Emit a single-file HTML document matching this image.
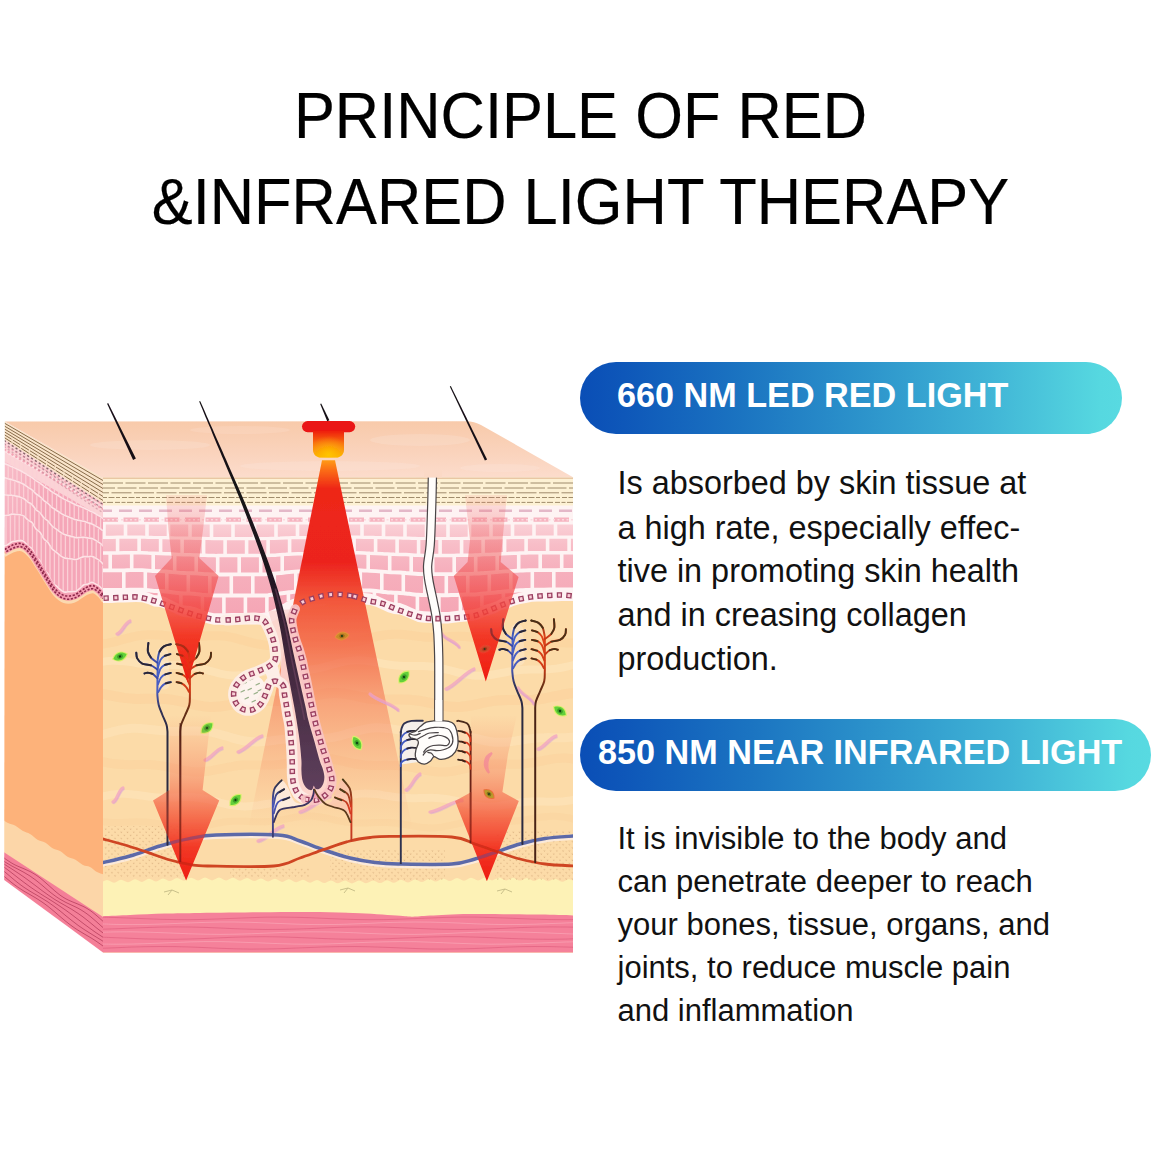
<!DOCTYPE html>
<html><head><meta charset="utf-8">
<style>
html,body{margin:0;padding:0;background:#fff;}
body{width:1160px;height:1160px;position:relative;overflow:hidden;font-family:"Liberation Sans",sans-serif;color:#000;}
.t{position:absolute;white-space:nowrap;line-height:1;}
.title{font-size:64px;left:0;width:1161px;text-align:center;color:#000;transform:scaleX(0.9594);-webkit-text-stroke:0.2px #000;transform-origin:580.5px 0;}
.pill{position:absolute;height:71.5px;border-radius:36px;background:linear-gradient(90deg,#0a4eb6 0%,#0e57b9 8%,#1b74c1 30%,#2c93cb 52%,#40b4d6 75%,#56d8e0 96%,#58dae1 100%);}
.pt{font-weight:bold;color:#fff;font-size:35.4px;transform:scaleX(0.966);transform-origin:0 0;}
.b{font-size:32.4px;color:#111;}
.b2{font-size:31px;}
</style></head><body>
<svg width="1160" height="1160" viewBox="0 0 1160 1160" style="position:absolute;left:0;top:0">
<defs>
<linearGradient id="gTop" x1="0" y1="0" x2="0" y2="1"><stop offset="0" stop-color="#f8caaa"/><stop offset="0.55" stop-color="#fad3bc"/><stop offset="1" stop-color="#fcdccc"/></linearGradient>
<linearGradient id="gBeam" x1="0" y1="460" x2="0" y2="870" gradientUnits="userSpaceOnUse"><stop offset="0" stop-color="#ff9c18"/><stop offset="0.025" stop-color="#fb6c14"/><stop offset="0.07" stop-color="#ee2618"/><stop offset="0.25" stop-color="#ec241e"/><stop offset="0.34" stop-color="#f2563a"/><stop offset="0.463" stop-color="#f25a3c" stop-opacity="0.75"/><stop offset="0.585" stop-color="#f25a3c" stop-opacity="0.43"/><stop offset="0.707" stop-color="#f25a3c" stop-opacity="0.23"/><stop offset="0.83" stop-color="#f25a3c" stop-opacity="0.06"/><stop offset="0.9" stop-color="#f25a3c" stop-opacity="0"/></linearGradient>
<linearGradient id="gA1" x1="0" y1="495" x2="0" y2="683" gradientUnits="userSpaceOnUse"><stop offset="0" stop-color="#f06a6a" stop-opacity="0.12"/><stop offset="0.3" stop-color="#f06060" stop-opacity="0.5"/><stop offset="0.55" stop-color="#f24a48" stop-opacity="0.8"/><stop offset="0.75" stop-color="#f2301f" stop-opacity="0.95"/><stop offset="1" stop-color="#ee1a10"/></linearGradient>
<linearGradient id="gA2" x1="0" y1="715" x2="0" y2="881" gradientUnits="userSpaceOnUse"><stop offset="0" stop-color="#f58060" stop-opacity="0"/><stop offset="0.35" stop-color="#f57a5a" stop-opacity="0.45"/><stop offset="0.6" stop-color="#f4583c" stop-opacity="0.8"/><stop offset="0.8" stop-color="#f2301f" stop-opacity="0.95"/><stop offset="1" stop-color="#ee1a10"/></linearGradient>
<linearGradient id="gLed" x1="0" y1="0" x2="0" y2="1"><stop offset="0" stop-color="#ee1a10"/><stop offset="0.45" stop-color="#f86a10"/><stop offset="1" stop-color="#fdb608"/></linearGradient>
<radialGradient id="gLed2" cx="0.5" cy="0.9" r="0.7"><stop offset="0" stop-color="#ffc400"/><stop offset="1" stop-color="#ffb000" stop-opacity="0"/></radialGradient>
<linearGradient id="gHair" x1="0" y1="0" x2="1" y2="0"><stop offset="0" stop-color="#2a1a24"/><stop offset="1" stop-color="#6a3a58"/></linearGradient>
<linearGradient id="gVb" x1="0" y1="0" x2="0" y2="1"><stop offset="0" stop-color="#3f63d8"/><stop offset="1" stop-color="#2a2a48"/></linearGradient>
<linearGradient id="gVr" x1="0" y1="0" x2="0" y2="1"><stop offset="0" stop-color="#e0280c"/><stop offset="1" stop-color="#4a1a12"/></linearGradient>
<linearGradient id="gCell" x1="0" y1="524" x2="0" y2="615" gradientUnits="userSpaceOnUse"><stop offset="0" stop-color="#fad0d6"/><stop offset="0.22" stop-color="#f8bec8"/><stop offset="0.5" stop-color="#f6b0bd"/><stop offset="1" stop-color="#f5a6b5"/></linearGradient>
<clipPath id="cFront"><rect x="103" y="477.5" width="470" height="474.9"/></clipPath>
<clipPath id="cLeft"><path d="M4.8 421.4L103 477.5L103 952.4L4.2 880Z"/></clipPath>
<filter id="soft" x="-5%" y="-5%" width="110%" height="110%"><feGaussianBlur stdDeviation="0.6"/></filter>
</defs>
<g filter="url(#soft)">
<path d="M4.8 421.4L466 421.2Q474.5 421.2 481 425L573.5 477.5L103 478Z" fill="url(#gTop)"/>
<ellipse cx="150" cy="445" rx="60" ry="5" fill="#fde6da" opacity="0.25"/>
<ellipse cx="330" cy="466" rx="90" ry="5" fill="#fde6da" opacity="0.3"/>
<ellipse cx="420" cy="440" rx="50" ry="6" fill="#fde6da" opacity="0.25"/>
<ellipse cx="240" cy="430" rx="50" ry="4" fill="#fde6da" opacity="0.2"/>
<ellipse cx="500" cy="468" rx="40" ry="4" fill="#fde6da" opacity="0.3"/>
<g clip-path="url(#cLeft)">
<linearGradient id="gLF" x1="0" y1="0" x2="0.45" y2="1"><stop offset="0" stop-color="#fbd3da"/><stop offset="0.12" stop-color="#f8bcc8"/><stop offset="0.3" stop-color="#f5a6b8"/></linearGradient><rect x="0" y="400" width="110" height="560" fill="url(#gLF)"/>
<path d="M0 416.7L10 422.4L20 428.1L30 433.8L40 439.5L50 445.2L60 450.9L70 456.6L80 462.4L90 468.1L100 473.8L110 479.5L110 521.5L100 515.8L90 510.1L80 504.4L70 498.6L60 492.9L50 487.2L40 481.5L30 475.8L20 470.1L10 464.4L0 458.7Z" fill="#fbd3d6"/>
<path d="M4 450.9C4.7 451.3 6.7 452.5 8 453.2C9.3 454 10.7 454.8 12 455.5C13.3 456.3 14.7 457 16 457.8C17.3 458.6 18.7 459.3 20 460.1C21.3 460.8 22.7 461.6 24 462.4C25.3 463.1 26.7 463.9 28 464.7C29.3 465.4 30.7 466.2 32 466.9C33.3 467.7 34.7 468.5 36 469.2C37.3 470 38.7 470.7 40 471.5C41.3 472.3 42.7 473 44 473.8C45.3 474.6 46.7 475.3 48 476.1C49.3 476.8 50.7 477.6 52 478.4C53.3 479.1 54.7 479.9 56 480.6C57.3 481.4 58.7 482.2 60 482.9C61.3 483.7 62.7 484.5 64 485.2C65.3 486 66.7 486.7 68 487.5C69.3 488.3 70.7 489 72 489.8C73.3 490.6 74.7 491.3 76 492.1C77.3 492.8 78.7 493.6 80 494.4C81.3 495.1 82.7 495.9 84 496.6C85.3 497.4 86.7 498.2 88 498.9C89.3 499.7 90.7 500.5 92 501.2C93.3 502 94.7 502.7 96 503.5C97.3 504.3 98.7 505 100 505.8C101.3 506.5 103.3 507.7 104 508.1" fill="none" stroke="#fde3e6" stroke-width="1.6"/>
<path d="M4 463.3C4.7 463.6 6.7 464.5 8 465.1C9.3 465.7 10.7 466.1 12 466.7C13.3 467.3 14.7 468 16 468.6C17.3 469.3 18.7 469.9 20 470.5C21.3 471.2 22.7 471.9 24 472.7C25.3 473.4 26.7 474.4 28 475.2C29.3 476.1 30.7 476.7 32 477.6C33.3 478.5 34.7 479.7 36 480.7C37.3 481.6 38.7 482.2 40 483.1C41.3 484.1 42.7 485.3 44 486.3C45.3 487.2 46.7 487.9 48 488.8C49.3 489.7 50.7 490.9 52 491.8C53.3 492.7 54.7 493.5 56 494.3C57.3 495.1 58.7 496 60 496.8C61.3 497.6 62.7 498.4 64 499.1C65.3 499.8 66.7 500.4 68 501.1C69.3 501.7 70.7 502.4 72 503C73.3 503.7 74.7 504.4 76 505C77.3 505.5 78.7 506 80 506.5C81.3 507.1 82.7 507.5 84 508.1C85.3 508.7 86.7 509.4 88 510C89.3 510.6 90.7 511.1 92 511.8C93.3 512.4 94.7 513.2 96 514C97.3 514.7 98.7 515.5 100 516.3C101.3 517.2 103.3 518.5 104 519" fill="none" stroke="#fde3e6" stroke-width="1.6"/>
<path d="M4 477.6C4.7 477.8 6.7 478.4 8 478.8C9.3 479.1 10.7 479.3 12 479.7C13.3 480 14.7 480.6 16 481.1C17.3 481.6 18.7 482 20 482.6C21.3 483.1 22.7 483.7 24 484.5C25.3 485.4 26.7 486.5 28 487.4C29.3 488.3 30.7 488.8 32 489.9C33.3 490.9 34.7 492.7 36 493.8C37.3 495 38.7 495.4 40 496.6C41.3 497.7 42.7 499.5 44 500.7C45.3 501.8 46.7 502.4 48 503.5C49.3 504.6 50.7 506.3 52 507.4C53.3 508.5 54.7 509.1 56 510C57.3 510.9 58.7 511.9 60 512.7C61.3 513.6 62.7 514.5 64 515.1C65.3 515.8 66.7 516.2 68 516.7C69.3 517.2 70.7 517.8 72 518.3C73.3 518.8 74.7 519.4 76 519.8C77.3 520.2 78.7 520.4 80 520.6C81.3 520.9 82.7 521 84 521.3C85.3 521.7 86.7 522.3 88 522.7C89.3 523.1 90.7 523.4 92 523.9C93.3 524.5 94.7 525.3 96 526.1C97.3 526.8 98.7 527.6 100 528.5C101.3 529.4 103.3 531.1 104 531.6" fill="none" stroke="#fde3e6" stroke-width="1.6"/>
<path d="M4 494.7C4.7 494.8 6.7 495.1 8 495.2C9.3 495.3 10.7 495 12 495.2C13.3 495.3 14.7 495.8 16 496.1C17.3 496.4 18.7 496.6 20 497C21.3 497.5 22.7 498 24 498.8C25.3 499.6 26.7 501.1 28 502.1C29.3 503.1 30.7 503.3 32 504.6C33.3 505.9 34.7 508.3 36 509.7C37.3 511 38.7 511.3 40 512.7C41.3 514 42.7 516.6 44 518C45.3 519.4 46.7 519.8 48 521.1C49.3 522.4 50.7 524.7 52 526C53.3 527.3 54.7 528 56 528.9C57.3 529.9 58.7 531 60 531.9C61.3 532.8 62.7 533.7 64 534.3C65.3 534.9 66.7 535.1 68 535.5C69.3 535.9 70.7 536.3 72 536.6C73.3 537 74.7 537.5 76 537.7C77.3 537.8 78.7 537.5 80 537.5C81.3 537.4 82.7 537.1 84 537.2C85.3 537.3 86.7 537.8 88 538C89.3 538.2 90.7 538.1 92 538.5C93.3 539 94.7 539.8 96 540.6C97.3 541.4 98.7 542.1 100 543.1C101.3 544.1 103.3 546.1 104 546.7" fill="none" stroke="#fde3e6" stroke-width="1.6"/>
<path d="M4 515.6C4.7 515.5 6.7 515.5 8 515.3C9.3 515.1 10.7 514.3 12 514.1C13.3 514 14.7 514.4 16 514.5C17.3 514.6 18.7 514.4 20 514.7C21.3 515 22.7 515.3 24 516.2C25.3 517.1 26.7 518.9 28 520C29.3 521.1 30.7 521.1 32 522.6C33.3 524.1 34.7 527.4 36 529C37.3 530.6 38.7 530.7 40 532.3C41.3 534 42.7 537.4 44 539.1C45.3 540.8 46.7 541 48 542.6C49.3 544.3 50.7 547.3 52 548.8C53.3 550.4 54.7 551 56 552C57.3 553.1 58.7 554.3 60 555.3C61.3 556.2 62.7 557.3 64 557.8C65.3 558.4 66.7 558.3 68 558.5C69.3 558.6 70.7 558.8 72 559C73.3 559.2 74.7 559.6 76 559.5C77.3 559.3 78.7 558.6 80 558.1C81.3 557.6 82.7 556.8 84 556.6C85.3 556.4 86.7 556.7 88 556.7C89.3 556.6 90.7 556.1 92 556.4C93.3 556.6 94.7 557.6 96 558.3C97.3 559.1 98.7 559.8 100 560.9C101.3 562 103.3 564.4 104 565.1" fill="none" stroke="#fde3e6" stroke-width="1.6"/>
<path d="M4 546C4.7 545.8 6.7 545.2 8 544.5C9.3 543.8 10.7 542.3 12 541.7C13.3 541.2 14.7 541.4 16 541.1C17.3 540.9 18.7 540.4 20 540.4C21.3 540.5 22.7 540.6 24 541.6C25.3 542.5 26.7 544.8 28 546C29.3 547.2 30.7 547 32 548.8C33.3 550.7 34.7 555.1 36 557.2C37.3 559.2 38.7 558.8 40 561C41.3 563.1 42.7 567.7 44 569.9C45.3 572 46.7 571.9 48 574C49.3 576 50.7 580 52 582C53.3 583.9 54.7 584.4 56 585.6C57.3 586.8 58.7 588.2 60 589.3C61.3 590.4 62.7 591.6 64 592C65.3 592.4 66.7 591.9 68 591.8C69.3 591.8 70.7 591.7 72 591.6C73.3 591.5 74.7 591.7 76 591.2C77.3 590.6 78.7 589.1 80 588.1C81.3 587 82.7 585.5 84 584.8C85.3 584.1 86.7 584.3 88 583.9C89.3 583.4 90.7 582.3 92 582.3C93.3 582.4 94.7 583.4 96 584.2C97.3 584.9 98.7 585.5 100 586.8C101.3 588.1 103.3 591.1 104 592" fill="none" stroke="#fde3e6" stroke-width="1.6"/>
<path d="M6 452.9V463.5M10.4 455.4V465.2M14.8 457.9V467.3M19.2 460.4V469.3M23.6 462.9V471.6M28 465.5V474.4M32.4 468V477.1M36.8 470.5V480.4M41.2 473V483.2M45.6 475.5V486.6M50 478V489.5M54.4 480.5V492.6M58.8 483V495.2M63.2 485.6V497.9M67.6 488.1V500.1M72 490.6V502.2M76.4 493.1V504.3M80.8 495.6V506M85.2 498.1V507.8M89.6 500.6V509.9M94 503.2V512M98.4 505.7V514.6M102.8 508.2V517.5" stroke="#fbd0d6" stroke-width="1.3" fill="none"/>
<path d="M8.2 466V478M12.6 467.8V479M17 469.9V480.7M21.4 472V482.3M25.8 474.6V485.1M30.2 477.3V487.8M34.6 480.4V491.7M39 483.3V495M43.4 486.6V499.3M47.8 489.5V502.5M52.2 492.8V506.8M56.6 495.4V509.6M61 498.2V512.6M65.4 500.6V514.9M69.8 502.7V516.6M74.2 504.9V518.4M78.6 506.8V519.6M83 508.5V520.3M87.4 510.5V521.7M91.8 512.5V523.1M96.2 514.9V525.4M100.6 517.5V528.2" stroke="#fbd0d6" stroke-width="1.3" fill="none"/>
<path d="M6 479.1V494.4M10.4 480.1V494.3M14.8 481.5V495M19.2 483.1V496M23.6 485.1V497.7M28 488.2V501.3M32.4 491V504.3M36.8 495.3V509.7M41.2 498.5V513.3M45.6 502.9V518.9M50 506.1V522.6M54.4 510.1V527.5M58.8 512.7V530.1M63.2 515.5V533.2M67.6 517.4V534.6M72 519.1V535.8M76.4 520.7V536.9M80.8 521.5V536.6M85.2 522.5V536.6M89.6 524V537.4M94 525.6V538.4M98.4 528.4V541.5M102.8 531.8V545.4" stroke="#fbd0d6" stroke-width="1.3" fill="none"/>
<path d="M8.2 496V514.4M12.6 496.1V513.3M17 497.2V513.7M21.4 498.2V514.1M25.8 501.1V517.1M30.2 504V520.3M34.6 508.7V526M39 512.6V530.5M43.4 518V537.3M47.8 521.7V541.6M52.2 527.1V548.3M56.6 530.1V551.6M61 533.4V555.3M65.4 535.6V557.3M69.8 536.8V557.9M74.2 538.1V558.6M78.6 538.4V557.9M83 538V556.1M87.4 538.7V555.9M91.8 539.3V555.6M96.2 541.6V557.7M100.6 544.5V560.8" stroke="#fbd0d6" stroke-width="1.3" fill="none"/>
<path d="M6 516.6V544.9M10.4 515.3V541.9M14.8 515.2V540.5M19.2 515.4V539.7M23.6 516.7V540.4M28 520.8V545.2M32.4 524V548.7M36.8 530.8V557.6M41.2 534.9V562.5M45.6 542V571.7M50 546.3V576.8M54.4 552.3V584.4M58.8 555V587.2M63.2 558.4V591.1M67.6 559.2V591.1M72 559.8V590.8M76.4 560.2V590.2M80.8 558.5V586.5M85.2 557.3V583.6M89.6 557.3V582.4M94 557.6V581.7M98.4 561V585.4M102.8 565.5V590.9" stroke="#fbd0d6" stroke-width="1.3" fill="none"/>
<path d="M4 444.9L104 505.1" stroke="#f3a9b8" stroke-width="1.6" stroke-dasharray="2.2 2.2" fill="none"/>
<path d="M4 449.4L104 509.6" stroke="#f3a3b3" stroke-width="2.2" stroke-dasharray="2.2 2.2" fill="none"/>
<path d="M0 418.7L110 481.5L110 507.5L0 436.7Z" fill="#f9e4ca"/>
<path d="M4 422.9L104 481.1" stroke="#755634" stroke-width="0.95" fill="none" opacity="0.9" />
<path d="M4 425.8L104 485.1" stroke="#755634" stroke-width="0.95" fill="none" opacity="0.9" />
<path d="M4 428.7L104 489.1" stroke="#755634" stroke-width="0.95" fill="none" opacity="0.9" />
<path d="M4 431.6L104 493.1" stroke="#755634" stroke-width="0.95" fill="none" opacity="0.9" />
<path d="M4 434.5L104 497.1" stroke="#755634" stroke-width="0.95" fill="none" opacity="0.9" stroke-dasharray="9 1.2"/>
<path d="M4 437.4L104 501.1" stroke="#755634" stroke-width="0.95" fill="none" opacity="0.9" stroke-dasharray="9 1.2"/>
<path d="M4 440.4L104 505.1" stroke="#6a4a50" stroke-width="1.3" fill="none" stroke-dasharray="2.2 2.4" opacity="0.8"/>
<path d="M4 443.5L104 509.3" stroke="#9a6a7a" stroke-width="1.3" fill="none" stroke-dasharray="2.2 2.4" opacity="0.65"/>
<path d="M4 446.6L104 513.5" stroke="#c88a9a" stroke-width="1.3" fill="none" stroke-dasharray="2.2 2.4" opacity="0.6"/>
<path d="M4.7 551C6.2 550.2 10.6 547.4 13.4 546.4C16.2 545.4 18.9 544.4 21.7 545.3C24.5 546.2 27.2 548.8 30 552C32.8 555.2 35.5 560.2 38.3 564.5C41.1 568.8 43.9 573.7 46.6 578C49.4 582.3 51.9 587.1 54.8 590.3C57.7 593.5 60.7 596 64 597C67.3 598 70.8 597.8 74.5 596.5C78.2 595.2 82.8 590.8 85.9 589.3C89 587.8 90.8 586.9 93 587.2C95.2 587.6 97.6 589.8 99.3 591.4C101 593 102.7 596.1 103.4 597L110 600L110 960L0 960L0 551Z" fill="#fdb27a"/>
<path d="M4.7 551C6.2 550.2 10.6 547.4 13.4 546.4C16.2 545.4 18.9 544.4 21.7 545.3C24.5 546.2 27.2 548.8 30 552C32.8 555.2 35.5 560.2 38.3 564.5C41.1 568.8 43.9 573.7 46.6 578C49.4 582.3 51.9 587.1 54.8 590.3C57.7 593.5 60.7 596 64 597C67.3 598 70.8 597.8 74.5 596.5C78.2 595.2 82.8 590.8 85.9 589.3C89 587.8 90.8 586.9 93 587.2C95.2 587.6 97.6 589.8 99.3 591.4C101 593 102.7 596.1 103.4 597" fill="none" stroke="#fbd9b0" stroke-width="3" transform="translate(0,4.5)"/>
<path d="M4.7 551C6.2 550.2 10.6 547.4 13.4 546.4C16.2 545.4 18.9 544.4 21.7 545.3C24.5 546.2 27.2 548.8 30 552C32.8 555.2 35.5 560.2 38.3 564.5C41.1 568.8 43.9 573.7 46.6 578C49.4 582.3 51.9 587.1 54.8 590.3C57.7 593.5 60.7 596 64 597C67.3 598 70.8 597.8 74.5 596.5C78.2 595.2 82.8 590.8 85.9 589.3C89 587.8 90.8 586.9 93 587.2C95.2 587.6 97.6 589.8 99.3 591.4C101 593 102.7 596.1 103.4 597" fill="none" stroke="#f49ab0" stroke-width="6"/>
<path d="M4.7 551C6.2 550.2 10.6 547.4 13.4 546.4C16.2 545.4 18.9 544.4 21.7 545.3C24.5 546.2 27.2 548.8 30 552C32.8 555.2 35.5 560.2 38.3 564.5C41.1 568.8 43.9 573.7 46.6 578C49.4 582.3 51.9 587.1 54.8 590.3C57.7 593.5 60.7 596 64 597C67.3 598 70.8 597.8 74.5 596.5C78.2 595.2 82.8 590.8 85.9 589.3C89 587.8 90.8 586.9 93 587.2C95.2 587.6 97.6 589.8 99.3 591.4C101 593 102.7 596.1 103.4 597" fill="none" stroke="#8c2848" stroke-width="1.6" stroke-dasharray="2.2 1.6" transform="translate(0,-1.6)"/>
<path d="M4.7 551C6.2 550.2 10.6 547.4 13.4 546.4C16.2 545.4 18.9 544.4 21.7 545.3C24.5 546.2 27.2 548.8 30 552C32.8 555.2 35.5 560.2 38.3 564.5C41.1 568.8 43.9 573.7 46.6 578C49.4 582.3 51.9 587.1 54.8 590.3C57.7 593.5 60.7 596 64 597C67.3 598 70.8 597.8 74.5 596.5C78.2 595.2 82.8 590.8 85.9 589.3C89 587.8 90.8 586.9 93 587.2C95.2 587.6 97.6 589.8 99.3 591.4C101 593 102.7 596.1 103.4 597" fill="none" stroke="#8c2848" stroke-width="1.6" stroke-dasharray="2.2 1.6" stroke-dashoffset="1.9" transform="translate(0,1.6)"/>
<path d="M0 817.5C1.3 818.4 5.5 821.7 8 823C10.5 824.3 12.5 824.2 15 825.5C17.5 826.8 20.5 829.6 23 831C25.5 832.4 27.5 832.5 30 834C32.5 835.5 35.5 838.6 38 840C40.5 841.4 42.5 841.1 45 842.5C47.5 843.9 50.5 847.1 53 848.5C55.5 849.9 57.5 849.6 60 851C62.5 852.4 65.5 855.6 68 857C70.5 858.4 72.5 858.2 75 859.5C77.5 860.8 80.5 863.8 83 865C85.5 866.2 87.7 865.8 90 867C92.3 868.2 94.7 870.8 97 872C99.3 873.2 101.8 873.7 104 874.5C106.2 875.3 109 876.6 110 877L110 960L0 960Z" fill="#fcd6a8"/>
<path d="M0 849.6L110 921.6L110 960L0 960Z" fill="#f47f98"/>
<path d="M0 854.5C1 855.3 4 857.9 6 859.4C8 860.8 10 862.1 12 863.3C14 864.5 16 865.4 18 866.3C20 867.2 22 868 24 868.8C26 869.7 28 870.5 30 871.5C32 872.6 34 873.7 36 875C38 876.3 40 877.9 42 879.5C44 881.2 46 883 48 884.8C50 886.6 52 888.5 54 890.2C56 891.9 58 893.6 60 895.1C62 896.5 64 897.8 66 898.9C68 900 70 900.8 72 901.7C74 902.6 76 903.3 78 904.1C80 905 82 905.8 84 906.8C86 907.9 88 909 90 910.4C92 911.8 94 913.4 96 915.1C98 916.7 100 918.6 102 920.4C104 922.2 107 924.9 108 925.8" fill="none" stroke="#b8405e" stroke-width="1" opacity="0.8"/>
<path d="M0 858.5C1 859.2 4 861.3 6 862.6C8 863.8 10 865 12 866.1C14 867.2 16 868.2 18 869.2C20 870.3 22 871.3 24 872.4C26 873.5 28 874.7 30 876C32 877.4 34 878.8 36 880.3C38 881.9 40 883.6 42 885.2C44 886.9 46 888.7 48 890.4C50 892 52 893.7 54 895.1C56 896.6 58 898 60 899.2C62 900.4 64 901.5 66 902.5C68 903.5 70 904.4 72 905.3C74 906.3 76 907.1 78 908.2C80 909.3 82 910.4 84 911.8C86 913.1 88 914.6 90 916.2C92 917.8 94 919.6 96 921.3C98 923.1 100 925 102 926.7C104 928.4 107 930.8 108 931.6" fill="none" stroke="#b8405e" stroke-width="1" opacity="0.8"/>
<path d="M0 861.5C1 862.1 4 864 6 865.3C8 866.5 10 867.8 12 869.1C14 870.4 16 871.6 18 873C20 874.3 22 875.7 24 877.1C26 878.5 28 880 30 881.5C32 882.9 34 884.5 36 886C38 887.5 40 889.1 42 890.6C44 892 46 893.5 48 894.9C50 896.3 52 897.7 54 899C56 900.2 58 901.4 60 902.6C62 903.8 64 904.9 66 906C68 907.2 70 908.3 72 909.5C74 910.7 76 912 78 913.4C80 914.7 82 916.2 84 917.7C86 919.3 88 920.9 90 922.5C92 924.2 94 925.9 96 927.5C98 929.1 100 930.7 102 932.2C104 933.7 107 935.6 108 936.3" fill="none" stroke="#b8405e" stroke-width="1" opacity="0.8"/>
<path d="M0 864.3C1 865 4 867.1 6 868.5C8 870 10 871.6 12 873.1C14 874.6 16 876.2 18 877.8C20 879.3 22 880.9 24 882.4C26 883.9 28 885.4 30 886.8C32 888.2 34 889.6 36 890.9C38 892.2 40 893.5 42 894.8C44 896.1 46 897.3 48 898.5C50 899.8 52 901 54 902.3C56 903.6 58 904.9 60 906.3C62 907.6 64 909 66 910.4C68 911.8 70 913.3 72 914.8C74 916.3 76 917.8 78 919.4C80 920.9 82 922.4 84 924C86 925.5 88 927 90 928.4C92 929.9 94 931.3 96 932.7C98 934 100 935.3 102 936.6C104 937.9 107 939.7 108 940.3" fill="none" stroke="#b8405e" stroke-width="1" opacity="0.8"/>
<path d="M0 868C1 868.8 4 871.2 6 872.9C8 874.6 10 876.3 12 878C14 879.7 16 881.4 18 882.9C20 884.5 22 885.9 24 887.3C26 888.7 28 890 30 891.2C32 892.5 34 893.6 36 894.7C38 895.9 40 897 42 898.3C44 899.5 46 900.7 48 902C50 903.4 52 904.8 54 906.3C56 907.8 58 909.4 60 910.9C62 912.5 64 914.2 66 915.9C68 917.5 70 919.1 72 920.7C74 922.3 76 923.8 78 925.3C80 926.7 82 928.1 84 929.4C86 930.7 88 932 90 933.2C92 934.5 94 935.7 96 936.9C98 938.1 100 939.3 102 940.6C104 941.9 107 944 108 944.6" fill="none" stroke="#b8405e" stroke-width="1" opacity="0.8"/>
<path d="M0 872.7C1 873.6 4 876.2 6 877.9C8 879.6 10 881.3 12 882.9C14 884.4 16 885.9 18 887.3C20 888.7 22 889.9 24 891.2C26 892.4 28 893.5 30 894.6C32 895.8 34 896.9 36 898.1C38 899.4 40 900.6 42 902C44 903.4 46 904.8 48 906.4C50 908 52 909.7 54 911.3C56 913 58 914.8 60 916.5C62 918.2 64 919.9 66 921.5C68 923.1 70 924.7 72 926.1C74 927.6 76 928.9 78 930.2C80 931.4 82 932.6 84 933.8C86 935 88 936.1 90 937.3C92 938.5 94 939.7 96 941.1C98 942.4 100 943.8 102 945.3C104 946.8 107 949.2 108 950" fill="none" stroke="#b8405e" stroke-width="1" opacity="0.8"/>
</g>
<g clip-path="url(#cFront)">
<rect x="100" y="470" width="480" height="490" fill="#fcdba8"/>
<path d="M100 644.4C102 644.1 108 643.3 112 642.4C116 641.5 120 640.2 124 639.2C128 638.1 132 636.9 136 636.2C140 635.4 144 634.9 148 634.7C152 634.6 156 634.8 160 635.1C164 635.4 168 636 172 636.3C176 636.6 180 637 184 637C188 637.1 192 636.9 196 636.7C200 636.5 204 636 208 635.8C212 635.7 216 635.5 220 635.8C224 636 228 636.6 232 637.4C236 638.2 240 639.5 244 640.5C248 641.6 252 642.9 256 643.7C260 644.5 264 645.2 268 645.4C272 645.7 276 645.5 280 645.3C284 645.1 288 644.4 292 644C296 643.6 300 643.1 304 643C308 642.8 312 642.9 316 643C320 643.1 324 643.6 328 643.8C332 643.9 336 644.2 340 644C344 643.8 348 643.4 352 642.7C356 642 360 640.8 364 639.8C368 638.8 372 637.4 376 636.5C380 635.6 384 634.8 388 634.5C392 634.1 396 634.1 400 634.3C404 634.5 408 635.2 412 635.6C416 636 420 636.7 424 636.9C428 637.2 432 637.3 436 637.3C440 637.2 444 636.8 448 636.7C452 636.5 456 636.2 460 636.3C464 636.4 468 636.7 472 637.3C476 637.9 480 639 484 639.9C488 640.9 492 642.3 496 643.2C500 644.2 504 645.1 508 645.6C512 646 516 646.1 520 646C524 645.9 528 645.2 532 644.8C536 644.3 540 643.6 544 643.2C548 642.9 552 642.6 556 642.5C560 642.5 564 642.7 568 642.9C572 643 578 643.3 580 643.3" fill="none" stroke="#fbd19a" stroke-width="9" opacity="0.55" stroke-linecap="round"/>
<path d="M100 662.2C102 662 108 660.8 112 660.7C116 660.5 120 660.8 124 661.2C128 661.6 132 662.5 136 663C140 663.6 144 664.3 148 664.7C152 665 156 665.2 160 665.2C164 665.3 168 665.1 172 665.1C176 665.1 180 665.1 184 665.4C188 665.8 192 666.4 196 667.2C200 668 204 669.3 208 670.3C212 671.4 216 672.7 220 673.6C224 674.4 228 675.1 232 675.4C236 675.7 240 675.5 244 675.1C248 674.8 252 673.9 256 673.3C260 672.7 264 671.9 268 671.4C272 670.9 276 670.6 280 670.4C284 670.3 288 670.4 292 670.4C296 670.4 300 670.5 304 670.3C308 670 312 669.5 316 668.8C320 668.1 324 667 328 665.9C332 664.9 336 663.6 340 662.7C344 661.8 348 660.9 352 660.6C356 660.2 360 660.3 364 660.6C368 660.9 372 661.7 376 662.3C380 663 384 663.9 388 664.5C392 665.1 396 665.5 400 665.8C404 666.1 408 666 412 666.1C416 666.1 420 665.9 424 666.1C428 666.3 432 666.6 436 667.2C440 667.8 444 668.8 448 669.8C452 670.8 456 672.1 460 673C464 674 468 674.9 472 675.4C476 675.8 480 675.9 484 675.7C488 675.4 492 674.7 496 674C500 673.4 504 672.4 508 671.7C512 671 516 670.4 520 670C524 669.6 528 669.6 532 669.5C536 669.4 540 669.6 544 669.4C548 669.3 552 669.1 556 668.6C560 668.1 564 667.3 568 666.4C572 665.5 578 663.8 580 663.3" fill="none" stroke="#fde6be" stroke-width="8" opacity="0.6" stroke-linecap="round"/>
<path d="M100 693.8C102 694.1 108 695.1 112 695.8C116 696.5 120 697.3 124 697.9C128 698.4 132 698.7 136 698.9C140 699.1 144 698.9 148 698.8C152 698.8 156 698.6 160 698.7C164 698.8 168 699.1 172 699.7C176 700.3 180 701.2 184 702.1C188 703 192 704.2 196 705C200 705.7 204 706.5 208 706.8C212 707 216 706.9 220 706.5C224 706.2 228 705.3 232 704.6C236 703.9 240 702.9 244 702.3C248 701.7 252 701.1 256 700.9C260 700.6 264 700.7 268 700.7C272 700.7 276 701 280 700.9C284 700.8 288 700.7 292 700.2C296 699.8 300 699 304 698.1C308 697.3 312 696.2 316 695.4C320 694.6 324 693.7 328 693.3C332 693 336 693 340 693.3C344 693.5 348 694.3 352 695.1C356 695.8 360 696.8 364 697.5C368 698.2 372 698.9 376 699.3C380 699.6 384 699.7 388 699.7C392 699.8 396 699.5 400 699.5C404 699.5 408 699.5 412 699.9C416 700.2 420 700.9 424 701.6C428 702.4 432 703.5 436 704.3C440 705.1 444 706.1 448 706.5C452 706.9 456 707.1 460 706.9C464 706.7 468 706 472 705.3C476 704.6 480 703.5 484 702.7C488 701.9 492 701.1 496 700.6C500 700.2 504 700 508 699.9C512 699.8 516 700 520 700.1C524 700.1 528 700.2 532 699.9C536 699.7 540 699.2 544 698.5C548 697.9 552 696.8 556 696C560 695.2 564 694.2 568 693.7C572 693.2 578 693.2 580 693" fill="none" stroke="#fbd09a" stroke-width="10" opacity="0.5" stroke-linecap="round"/>
<path d="M100 735.5C102 734.9 108 732.9 112 731.9C116 730.8 120 729.7 124 729.1C128 728.5 132 728.2 136 728.3C140 728.3 144 728.8 148 729.2C152 729.6 156 730.3 160 730.6C164 731 168 731.3 172 731.4C176 731.5 180 731.3 184 731.2C188 731.1 192 730.8 196 730.9C200 731 204 731.2 208 731.8C212 732.3 216 733.3 220 734.3C224 735.3 228 736.8 232 737.8C236 738.9 240 740.1 244 740.8C248 741.5 252 741.9 256 742C260 742.1 264 741.6 268 741.2C272 740.8 276 740.1 280 739.6C284 739.1 288 738.7 292 738.5C296 738.3 300 738.3 304 738.4C308 738.4 312 738.7 316 738.7C320 738.6 324 738.5 328 738.1C332 737.6 336 736.8 340 735.9C344 734.9 348 733.5 352 732.4C356 731.4 360 730.1 364 729.3C368 728.5 372 728 376 727.8C380 727.7 384 728 388 728.4C392 728.8 396 729.6 400 730.1C404 730.6 408 731.3 412 731.6C416 731.9 420 732 424 732C428 732 432 731.8 436 731.8C440 731.8 444 731.8 448 732.2C452 732.5 456 733.2 460 734C464 734.9 468 736.2 472 737.3C476 738.3 480 739.7 484 740.5C488 741.4 492 742.1 496 742.3C500 742.5 504 742.3 508 742C512 741.6 516 740.8 520 740.2C524 739.6 528 738.9 532 738.5C536 738 540 737.8 544 737.7C548 737.5 552 737.7 556 737.7C560 737.7 564 737.8 568 737.5C572 737.3 578 736.3 580 736" fill="none" stroke="#fde4ba" stroke-width="9" opacity="0.55" stroke-linecap="round"/>
<path d="M100 761.3C102 761.7 108 763 112 763.5C116 764.1 120 764.4 124 764.6C128 764.8 132 764.6 136 764.6C140 764.6 144 764.3 148 764.5C152 764.7 156 765 160 765.6C164 766.1 168 767.1 172 767.9C176 768.8 180 769.9 184 770.5C188 771.2 192 771.8 196 772C200 772.1 204 771.8 208 771.3C212 770.8 216 769.8 220 769C224 768.2 228 767.2 232 766.6C236 765.9 240 765.4 244 765.1C248 764.9 252 765 256 765C260 765 264 765.2 268 765.1C272 765 276 764.9 280 764.4C284 764 288 763.1 292 762.4C296 761.6 300 760.5 304 759.8C308 759.1 312 758.3 316 758.1C320 757.9 324 758.1 328 758.5C332 758.9 336 759.8 340 760.6C344 761.4 348 762.5 352 763.3C356 764 360 764.7 364 765.1C368 765.4 372 765.4 376 765.5C380 765.5 384 765.2 388 765.3C392 765.3 396 765.3 400 765.7C404 766 408 766.7 412 767.4C416 768.1 420 769.2 424 769.9C428 770.6 432 771.4 436 771.7C440 772 444 772 448 771.7C452 771.4 456 770.5 460 769.7C464 768.9 468 767.8 472 766.9C476 766.1 480 765.3 484 764.8C488 764.3 492 764.2 496 764.1C500 764 504 764.3 508 764.3C512 764.3 516 764.4 520 764.2C524 763.9 528 763.4 532 762.8C536 762.2 540 761.2 544 760.5C548 759.8 552 758.9 556 758.5C560 758.1 564 758 568 758.2C572 758.5 578 759.7 580 760" fill="none" stroke="#fbd19c" stroke-width="9" opacity="0.5" stroke-linecap="round"/>
<path d="M100 797.1C102 796.7 108 795.1 112 794.5C116 794 120 793.7 124 793.8C128 793.8 132 794.4 136 794.8C140 795.3 144 796.1 148 796.5C152 797 156 797.4 160 797.6C164 797.7 168 797.6 172 797.5C176 797.4 180 797 184 797C188 797 192 797 196 797.4C200 797.8 204 798.6 208 799.4C212 800.3 216 801.6 220 802.6C224 803.6 228 804.7 232 805.3C236 806 240 806.4 244 806.4C248 806.5 252 806 256 805.6C260 805.1 264 804.3 268 803.7C272 803.2 276 802.6 280 802.4C284 802.1 288 802.1 292 802.1C296 802.2 300 802.5 304 802.6C308 802.6 312 802.7 316 802.4C320 802.1 324 801.5 328 800.7C332 799.9 336 798.7 340 797.7C344 796.8 348 795.6 352 794.8C356 794.1 360 793.6 364 793.5C368 793.3 372 793.7 376 794.1C380 794.5 384 795.4 388 795.9C392 796.5 396 797.3 400 797.6C404 798 408 798.2 412 798.2C416 798.3 420 798 424 797.9C428 797.8 432 797.7 436 797.9C440 798.1 444 798.5 448 799.2C452 799.9 456 801 460 801.9C464 802.9 468 804.1 472 804.9C476 805.7 480 806.4 484 806.6C488 806.8 492 806.6 496 806.3C500 805.9 504 805 508 804.4C512 803.8 516 802.9 520 802.4C524 802 528 801.6 532 801.5C536 801.4 540 801.6 544 801.6C548 801.7 552 801.9 556 801.8C560 801.7 564 801.4 568 800.8C572 800.2 578 798.7 580 798.3" fill="none" stroke="#fde6be" stroke-width="8" opacity="0.55" stroke-linecap="round"/>
<path d="M100 821.4C102 821.6 108 822.3 112 822.5C116 822.6 120 822.4 124 822.3C128 822.1 132 821.8 136 821.8C140 821.8 144 821.9 148 822.3C152 822.7 156 823.5 160 824.2C164 824.9 168 825.9 172 826.5C176 827.2 180 827.8 184 827.9C188 828.1 192 827.8 196 827.4C200 827 204 826 208 825.2C212 824.5 216 823.4 220 822.8C224 822.1 228 821.6 232 821.3C236 821.1 240 821.2 244 821.3C248 821.4 252 821.8 256 821.8C260 821.9 264 821.9 268 821.6C272 821.4 276 820.7 280 820.1C284 819.5 288 818.5 292 817.8C296 817.2 300 816.4 304 816.2C308 816 312 816 316 816.4C320 816.8 324 817.6 328 818.4C332 819.2 336 820.3 340 821C344 821.8 348 822.5 352 822.8C356 823.1 360 823.1 364 823.1C368 823.1 372 822.7 376 822.6C380 822.5 384 822.3 388 822.5C392 822.7 396 823.1 400 823.7C404 824.2 408 825.2 412 825.8C416 826.5 420 827.3 424 827.6C428 827.9 432 828 436 827.7C440 827.4 444 826.7 448 825.9C452 825.2 456 824 460 823.2C464 822.4 468 821.6 472 821.1C476 820.7 480 820.5 484 820.5C488 820.5 492 820.9 496 821C500 821.1 504 821.4 508 821.3C512 821.2 516 821 520 820.5C524 820 528 819.2 532 818.6C536 817.9 540 817.1 544 816.7C548 816.3 552 816.1 556 816.3C560 816.4 564 817.1 568 817.8C572 818.5 578 820 580 820.5" fill="none" stroke="#fbd29c" stroke-width="7" opacity="0.4" stroke-linecap="round"/>
<path d="M100 883.1C101.2 882.6 104.7 880.2 107 880.1C109.3 880.1 111.7 882.8 114 882.8C116.3 882.7 118.7 879.8 121 879.8C123.3 879.7 125.7 882.4 128 882.3C130.3 882.3 132.7 879.4 135 879.3C137.3 879.2 139.7 882 142 881.9C144.3 881.8 146.7 878.9 149 878.8C151.3 878.8 153.7 881.5 156 881.4C158.3 881.3 160.7 878.5 163 878.4C165.3 878.3 167.7 881.1 170 881C172.3 880.9 174.7 878.1 177 878C179.3 878 181.7 880.7 184 880.7C186.3 880.6 188.7 877.8 191 877.8C193.3 877.7 195.7 880.5 198 880.5C200.3 880.4 202.7 877.6 205 877.6C207.3 877.6 209.7 880.4 212 880.4C214.3 880.4 216.7 877.6 219 877.6C221.3 877.6 223.7 880.4 226 880.5C228.3 880.5 230.7 877.7 233 877.8C235.3 877.8 237.7 880.6 240 880.7C242.3 880.7 244.7 878 247 878C249.3 878.1 251.7 880.9 254 881C256.3 881.1 258.7 878.3 261 878.4C263.3 878.5 265.7 881.3 268 881.4C270.3 881.5 272.7 878.8 275 878.8C277.3 878.9 279.7 881.8 282 881.9C284.3 882 286.7 879.2 289 879.3C291.3 879.4 293.7 882.3 296 882.3C298.3 882.4 300.7 879.7 303 879.8C305.3 879.8 307.7 882.7 310 882.8C312.3 882.8 314.7 880.1 317 880.1C319.3 880.2 321.7 883 324 883.1C326.3 883.1 328.7 880.4 331 880.4C333.3 880.5 335.7 883.3 338 883.3C340.3 883.3 342.7 880.6 345 880.6C347.3 880.6 349.7 883.4 352 883.4C354.3 883.4 356.7 880.6 359 880.6C361.3 880.6 363.7 883.4 366 883.3C368.3 883.3 370.7 880.5 373 880.5C375.3 880.4 377.7 883.2 380 883.1C382.3 883.1 384.7 880.3 387 880.2C389.3 880.1 391.7 882.9 394 882.8C396.3 882.8 398.7 879.9 401 879.8C403.3 879.8 405.7 882.5 408 882.4C410.3 882.4 412.7 879.5 415 879.4C417.3 879.3 419.7 882 422 882C424.3 881.9 426.7 879 429 878.9C431.3 878.9 433.7 881.6 436 881.5C438.3 881.4 440.7 878.6 443 878.5C445.3 878.4 447.7 881.1 450 881.1C452.3 881 454.7 878.2 457 878.1C459.3 878 461.7 880.8 464 880.7C466.3 880.7 468.7 877.8 471 877.8C473.3 877.8 475.7 880.5 478 880.5C480.3 880.5 482.7 877.7 485 877.6C487.3 877.6 489.7 880.4 492 880.4C494.3 880.4 496.7 877.6 499 877.6C501.3 877.6 503.7 880.4 506 880.4C508.3 880.5 510.7 877.7 513 877.7C515.3 877.8 517.7 880.6 520 880.6C522.3 880.7 524.7 877.9 527 878C529.3 878 531.7 880.9 534 880.9C536.3 881 538.7 878.3 541 878.3C543.3 878.4 545.7 881.3 548 881.3C550.3 881.4 552.7 878.7 555 878.8C557.3 878.8 559.7 881.7 562 881.8C564.3 881.9 566.7 879.1 569 879.2C571.3 879.3 574.8 881.7 576 882.2L580 960L100 960Z" fill="#fdf2b6"/>
<pattern id="dots" width="4.4" height="4.4" patternUnits="userSpaceOnUse" patternTransform="rotate(45)"><circle cx="1.1" cy="1.1" r="0.75" fill="#c89a6a"/></pattern>
<rect x="104" y="826" width="82" height="52" fill="url(#dots)" opacity="0.55"/>
<rect x="330" y="850" width="115" height="30" fill="url(#dots)" opacity="0.55"/>
<rect x="495" y="830" width="80" height="50" fill="url(#dots)" opacity="0.55"/>
<rect x="230" y="868" width="80" height="10" fill="url(#dots)" opacity="0.55"/>
<path d="M100 883.1C101.2 882.6 104.7 880.2 107 880.1C109.3 880.1 111.7 882.8 114 882.8C116.3 882.7 118.7 879.8 121 879.8C123.3 879.7 125.7 882.4 128 882.3C130.3 882.3 132.7 879.4 135 879.3C137.3 879.2 139.7 882 142 881.9C144.3 881.8 146.7 878.9 149 878.8C151.3 878.8 153.7 881.5 156 881.4C158.3 881.3 160.7 878.5 163 878.4C165.3 878.3 167.7 881.1 170 881C172.3 880.9 174.7 878.1 177 878C179.3 878 181.7 880.7 184 880.7C186.3 880.6 188.7 877.8 191 877.8C193.3 877.7 195.7 880.5 198 880.5C200.3 880.4 202.7 877.6 205 877.6C207.3 877.6 209.7 880.4 212 880.4C214.3 880.4 216.7 877.6 219 877.6C221.3 877.6 223.7 880.4 226 880.5C228.3 880.5 230.7 877.7 233 877.8C235.3 877.8 237.7 880.6 240 880.7C242.3 880.7 244.7 878 247 878C249.3 878.1 251.7 880.9 254 881C256.3 881.1 258.7 878.3 261 878.4C263.3 878.5 265.7 881.3 268 881.4C270.3 881.5 272.7 878.8 275 878.8C277.3 878.9 279.7 881.8 282 881.9C284.3 882 286.7 879.2 289 879.3C291.3 879.4 293.7 882.3 296 882.3C298.3 882.4 300.7 879.7 303 879.8C305.3 879.8 307.7 882.7 310 882.8C312.3 882.8 314.7 880.1 317 880.1C319.3 880.2 321.7 883 324 883.1C326.3 883.1 328.7 880.4 331 880.4C333.3 880.5 335.7 883.3 338 883.3C340.3 883.3 342.7 880.6 345 880.6C347.3 880.6 349.7 883.4 352 883.4C354.3 883.4 356.7 880.6 359 880.6C361.3 880.6 363.7 883.4 366 883.3C368.3 883.3 370.7 880.5 373 880.5C375.3 880.4 377.7 883.2 380 883.1C382.3 883.1 384.7 880.3 387 880.2C389.3 880.1 391.7 882.9 394 882.8C396.3 882.8 398.7 879.9 401 879.8C403.3 879.8 405.7 882.5 408 882.4C410.3 882.4 412.7 879.5 415 879.4C417.3 879.3 419.7 882 422 882C424.3 881.9 426.7 879 429 878.9C431.3 878.9 433.7 881.6 436 881.5C438.3 881.4 440.7 878.6 443 878.5C445.3 878.4 447.7 881.1 450 881.1C452.3 881 454.7 878.2 457 878.1C459.3 878 461.7 880.8 464 880.7C466.3 880.7 468.7 877.8 471 877.8C473.3 877.8 475.7 880.5 478 880.5C480.3 880.5 482.7 877.7 485 877.6C487.3 877.6 489.7 880.4 492 880.4C494.3 880.4 496.7 877.6 499 877.6C501.3 877.6 503.7 880.4 506 880.4C508.3 880.5 510.7 877.7 513 877.7C515.3 877.8 517.7 880.6 520 880.6C522.3 880.7 524.7 877.9 527 878C529.3 878 531.7 880.9 534 880.9C536.3 881 538.7 878.3 541 878.3C543.3 878.4 545.7 881.3 548 881.3C550.3 881.4 552.7 878.7 555 878.8C557.3 878.8 559.7 881.7 562 881.8C564.3 881.9 566.7 879.1 569 879.2C571.3 879.3 574.8 881.7 576 882.2L580 960L100 960Z" fill="#fdf2b6" opacity="0.0"/>
<path d="M100 916.3C105 916.1 119.2 915.5 130 915C140.8 914.5 153.3 913.9 165 913.6C176.7 913.3 184.2 913.2 200 913C215.8 912.8 241.7 912.5 260 912.3C278.3 912.1 293.3 911.9 310 912C326.7 912.1 345 912.6 360 913.2C375 913.8 391.2 915.2 400 915.8C408.8 916.4 408 916.7 413 916.7C418 916.7 420.5 916.1 430 915.6C439.5 915.1 451.7 914.2 470 914C488.3 913.8 521.7 914.3 540 914.6C558.3 914.9 573.3 915.4 580 915.6L580 960L100 960Z" fill="#f5819a"/>
<path d="M100 917.2C102.5 917.2 110 917.4 115 917.5C120 917.7 125 917.9 130 918.1C135 918.3 140 918.5 145 918.7C150 918.9 155 919.1 160 919.3C165 919.4 170 919.6 175 919.6C180 919.7 185 919.7 190 919.7C195 919.6 200 919.5 205 919.4C210 919.3 215 919.1 220 918.9C225 918.7 230 918.5 235 918.3C240 918.1 245 917.8 250 917.7C255 917.5 260 917.3 265 917.2C270 917.1 275 917.1 280 917.1C285 917.1 290 917.2 295 917.3C300 917.4 305 917.6 310 917.7C315 917.9 320 918.1 325 918.4C330 918.6 335 918.8 340 919C345 919.2 350 919.4 355 919.5C360 919.6 365 919.7 370 919.7C375 919.7 380 919.7 385 919.6C390 919.5 395 919.4 400 919.2C405 919 410 918.8 415 918.6C420 918.4 425 918.2 430 918C435 917.8 440 917.6 445 917.4C450 917.3 455 917.2 460 917.1C465 917.1 470 917.1 475 917.1C480 917.2 485 917.3 490 917.5C495 917.6 500 917.8 505 918C510 918.2 515 918.4 520 918.6C525 918.8 530 919.1 535 919.2C540 919.4 545 919.5 550 919.6C555 919.7 560 919.7 565 919.7C570 919.7 577.5 919.5 580 919.5" fill="none" stroke="#e0607f" stroke-width="1" opacity="0.7"/>
<path d="M100 923.9C102.5 923.9 110 924.2 115 924.4C120 924.5 125 924.6 130 924.6C135 924.6 140 924.6 145 924.5C150 924.4 155 924.3 160 924.1C165 924 170 923.8 175 923.5C180 923.3 185 923.1 190 922.9C195 922.7 200 922.5 205 922.4C210 922.2 215 922.1 220 922C225 922 230 922 235 922C240 922.1 245 922.2 250 922.3C255 922.5 260 922.7 265 922.9C270 923.1 275 923.3 280 923.5C285 923.7 290 923.9 295 924.1C300 924.3 305 924.4 310 924.5C315 924.6 320 924.6 325 924.6C330 924.6 335 924.5 340 924.4C345 924.3 350 924.1 355 923.9C360 923.7 365 923.5 370 923.3C375 923.1 380 922.8 385 922.6C390 922.5 395 922.3 400 922.2C405 922.1 410 922 415 922C420 922 425 922 430 922.1C435 922.2 440 922.4 445 922.5C450 922.7 455 922.9 460 923.1C465 923.4 470 923.6 475 923.8C480 924 485 924.2 490 924.3C495 924.4 500 924.5 505 924.6C510 924.6 515 924.6 520 924.5C525 924.5 530 924.3 535 924.2C540 924 545 923.8 550 923.6C555 923.4 560 923.2 565 923C570 922.8 577.5 922.5 580 922.4" fill="none" stroke="#f9a6b6" stroke-width="1" opacity="0.7"/>
<path d="M100 929.3C102.5 929.2 110 929 115 928.8C120 928.6 125 928.4 130 928.2C135 928 140 927.7 145 927.6C150 927.4 155 927.2 160 927.1C165 927 170 926.9 175 926.9C180 926.9 185 926.9 190 927C195 927.1 200 927.3 205 927.4C210 927.6 215 927.8 220 928C225 928.2 230 928.5 235 928.7C240 928.9 245 929.1 250 929.2C255 929.3 260 929.4 265 929.5C270 929.5 275 929.5 280 929.4C285 929.4 290 929.3 295 929.1C300 929 305 928.8 310 928.6C315 928.4 320 928.1 325 927.9C330 927.7 335 927.5 340 927.3C345 927.2 350 927 355 927C360 926.9 365 926.9 370 926.9C375 926.9 380 927 385 927.2C390 927.3 395 927.5 400 927.7C405 927.9 410 928.1 415 928.3C420 928.5 425 928.7 430 928.9C435 929.1 440 929.3 445 929.3C450 929.4 455 929.5 460 929.5C465 929.5 470 929.4 475 929.3C480 929.2 485 929.1 490 928.9C495 928.7 500 928.5 505 928.3C510 928.1 515 927.8 520 927.6C525 927.5 530 927.3 535 927.1C540 927 545 926.9 550 926.9C555 926.9 560 926.9 565 927C570 927.1 577.5 927.3 580 927.4" fill="none" stroke="#e0607f" stroke-width="1" opacity="0.7"/>
<path d="M100 932.3C102.5 932.2 110 932 115 931.9C120 931.8 125 931.8 130 931.8C135 931.8 140 931.9 145 932.1C150 932.2 155 932.4 160 932.6C165 932.7 170 933 175 933.2C180 933.4 185 933.6 190 933.8C195 934 200 934.1 205 934.2C210 934.3 215 934.4 220 934.4C225 934.4 230 934.3 235 934.2C240 934.1 245 934 250 933.8C255 933.6 260 933.4 265 933.2C270 933 275 932.8 280 932.6C285 932.4 290 932.2 295 932.1C300 931.9 305 931.8 310 931.8C315 931.8 320 931.8 325 931.9C330 932 335 932.1 340 932.2C345 932.4 350 932.6 355 932.8C360 933 365 933.3 370 933.5C375 933.7 380 933.9 385 934C390 934.2 395 934.3 400 934.3C405 934.4 410 934.4 415 934.4C420 934.3 425 934.2 430 934.1C435 933.9 440 933.7 445 933.6C450 933.4 455 933.1 460 932.9C465 932.7 470 932.5 475 932.3C480 932.2 485 932 490 931.9C495 931.8 500 931.8 505 931.8C510 931.8 515 931.9 520 932C525 932.1 530 932.3 535 932.5C540 932.7 545 932.9 550 933.1C555 933.3 560 933.5 565 933.7C570 933.9 577.5 934.1 580 934.2" fill="none" stroke="#f9a6b6" stroke-width="1" opacity="0.7"/>
<path d="M100 937.1C102.5 937.2 110 937.5 115 937.7C120 937.9 125 938.1 130 938.3C135 938.5 140 938.8 145 938.9C150 939.1 155 939.2 160 939.2C165 939.3 170 939.3 175 939.3C180 939.2 185 939.1 190 939C195 938.9 200 938.7 205 938.5C210 938.3 215 938 220 937.8C225 937.6 230 937.4 235 937.2C240 937.1 245 936.9 250 936.8C255 936.7 260 936.7 265 936.7C270 936.7 275 936.8 280 936.9C285 937 290 937.2 295 937.4C300 937.5 305 937.8 310 938C315 938.2 320 938.4 325 938.6C330 938.8 335 939 340 939.1C345 939.2 350 939.3 355 939.3C360 939.3 365 939.3 370 939.2C375 939.1 380 939 385 938.8C390 938.6 395 938.4 400 938.2C405 938 410 937.8 415 937.6C420 937.4 425 937.2 430 937C435 936.9 440 936.8 445 936.7C450 936.7 455 936.7 460 936.7C465 936.8 470 936.9 475 937.1C480 937.2 485 937.4 490 937.6C495 937.8 500 938.1 505 938.3C510 938.5 515 938.7 520 938.8C525 939 530 939.1 535 939.2C540 939.3 545 939.3 550 939.3C555 939.3 560 939.2 565 939.1C570 938.9 577.5 938.6 580 938.6" fill="none" stroke="#e0607f" stroke-width="1" opacity="0.7"/>
<path d="M100 944C102.5 944 110 944.2 115 944.2C120 944.2 125 944.2 130 944.1C135 944 140 943.9 145 943.7C150 943.5 155 943.3 160 943.1C165 942.9 170 942.7 175 942.5C180 942.3 185 942.1 190 941.9C195 941.8 200 941.7 205 941.6C210 941.6 215 941.6 220 941.6C225 941.7 230 941.8 235 942C240 942.1 245 942.3 250 942.5C255 942.7 260 942.9 265 943.1C270 943.3 275 943.6 280 943.7C285 943.9 290 944 295 944.1C300 944.2 305 944.2 310 944.2C315 944.2 320 944.1 325 944C330 943.8 335 943.7 340 943.5C345 943.3 350 943.1 355 942.8C360 942.6 365 942.4 370 942.2C375 942.1 380 941.9 385 941.8C390 941.7 395 941.6 400 941.6C405 941.6 410 941.6 415 941.7C420 941.8 425 942 430 942.2C435 942.3 440 942.6 445 942.8C450 943 455 943.2 460 943.4C465 943.6 470 943.8 475 943.9C480 944 485 944.1 490 944.2C495 944.2 500 944.2 505 944.1C510 944.1 515 943.9 520 943.8C525 943.6 530 943.4 535 943.2C540 943 545 942.8 550 942.6C555 942.4 560 942.2 565 942C570 941.9 577.5 941.7 580 941.7" fill="none" stroke="#f9a6b6" stroke-width="1" opacity="0.7"/>
<path d="M100 948.4C102.5 948.3 110 948 115 947.8C120 947.6 125 947.3 130 947.1C135 947 140 946.8 145 946.7C150 946.6 155 946.5 160 946.5C165 946.5 170 946.5 175 946.6C180 946.7 185 946.9 190 947C195 947.2 200 947.4 205 947.6C210 947.9 215 948.1 220 948.3C225 948.5 230 948.7 235 948.8C240 948.9 245 949 250 949.1C255 949.1 260 949.1 265 949C270 949 275 948.8 280 948.7C285 948.5 290 948.3 295 948.1C300 947.9 305 947.7 310 947.5C315 947.3 320 947.1 325 946.9C330 946.8 335 946.6 340 946.6C345 946.5 350 946.5 355 946.5C360 946.6 365 946.7 370 946.8C375 946.9 380 947.1 385 947.3C390 947.5 395 947.7 400 947.9C405 948.1 410 948.4 415 948.5C420 948.7 425 948.9 430 949C435 949.1 440 949.1 445 949.1C450 949.1 455 949 460 948.9C465 948.8 470 948.6 475 948.5C480 948.3 485 948.1 490 947.9C495 947.6 500 947.4 505 947.2C510 947 515 946.9 520 946.7C525 946.6 530 946.5 535 946.5C540 946.5 545 946.5 550 946.6C555 946.7 560 946.8 565 947C570 947.1 577.5 947.5 580 947.6" fill="none" stroke="#e0607f" stroke-width="1" opacity="0.7"/>
<path d="M164 892l8 -2l7 3M172 890l-4 5" stroke="#c9c08a" stroke-width="1" fill="none"/>
<path d="M340 890l8 -2l7 3M348 888l-4 5" stroke="#c9c08a" stroke-width="1" fill="none"/>
<path d="M497 891l8 -2l7 3M505 889l-4 5" stroke="#c9c08a" stroke-width="1" fill="none"/>
<path d="M100 470L580 470L580 601L580 601L574 601L568 601L562 601.1L556 601.2L550 601.4L544 601.5L538 601.6L532 601.7L526 603.1L520 604L514 605.7L508 608.2L502 609.4L496 612.9L490 615L484 616.7L478 619.7L472 621L466 621.4L460 622L454 622.8L448 623.4L442 623.6L436 623.4L430 623L424 622.8L418 622L412 619.6L406 616.7L400 614.5L394 613.9L388 612.2L382 609.5L376 606.8L370 605.1L364 604.4L358 602.3L352 601L346 601.3L340 602.1L334 603.2L328 604.5L322 605.9L316 607.2L310 608.2L304 608.9L298 609.1L292 610.8L286 613.8L280 617.4L274 620.8L268 623.5L262 624.5L256 624.5L250 624.5L244 624.6L238 624.6L232 624.6L226 624.7L220 624.7L214 624.7L208 623.6L202 621.4L196 619.1L190 617.4L184 616.9L178 615L172 612L166 609L160 607.1L154 606.4L148 604.1L142 602.2L136 602L130 602.2L124 602.4L118 602.6L112 602.9L106 603L100 603Z" fill="#fef3f3"/>
<path d="M100 524.5 L580 524.5 L580 589.5L574 589.5L568 589.5L562 589.6L556 589.7L550 589.9L544 590L538 590.1L532 590.2L526 591.6L520 592.5L514 594.2L508 596.7L502 597.9L496 601.4L490 603.5L484 605.2L478 608.2L472 609.5L466 609.9L460 610.5L454 611.3L448 611.9L442 612.1L436 611.9L430 611.5L424 611.3L418 610.5L412 608.1L406 605.2L400 603L394 602.4L388 600.7L382 598L376 595.3L370 593.6L364 592.9L358 590.8L352 589.5L346 589.8L340 590.6L334 591.7L328 593L322 594.4L316 595.7L310 596.7L304 597.4L298 597.6L292 599.3L286 602.3L280 605.9L274 609.3L268 612L262 613L256 613L250 613L244 613.1L238 613.1L232 613.1L226 613.2L220 613.2L214 613.2L208 612.1L202 609.9L196 607.6L190 605.9L184 605.4L178 603.5L172 600.5L166 597.5L160 595.6L154 594.9L148 592.6L142 590.7L136 590.5L130 590.7L124 590.9L118 591.1L112 591.4L106 591.5L100 591.5 Z" fill="url(#gCell)"/>
<path d="M100 537.3C101 537.3 104 537.3 106 537.3C108 537.3 110 537.3 112 537.3C114 537.2 116 537.2 118 537.2C120 537.2 122 537.2 124 537.2C126 537.2 128 537.2 130 537.2C132 537.2 134 537.2 136 537.2C138 537.2 140 537.2 142 537.2C144 537.2 146 537.3 148 537.3C150 537.4 152 537.4 154 537.5C156 537.5 158 537.5 160 537.5C162 537.5 164 537.6 166 537.6C168 537.7 170 537.8 172 537.8C174 537.9 176 538 178 538C180 538.1 182 538.1 184 538.1C186 538.2 188 538.1 190 538.2C192 538.2 194 538.2 196 538.3C198 538.3 200 538.4 202 538.4C204 538.5 206 538.5 208 538.5C210 538.6 212 538.6 214 538.6C216 538.6 218 538.6 220 538.6C222 538.6 224 538.6 226 538.6C228 538.6 230 538.6 232 538.6C234 538.6 236 538.6 238 538.6C240 538.6 242 538.6 244 538.6C246 538.6 248 538.6 250 538.6C252 538.6 254 538.6 256 538.6C258 538.6 260 538.6 262 538.6C264 538.6 266 538.6 268 538.5C270 538.5 272 538.4 274 538.4C276 538.3 278 538.2 280 538.2C282 538.1 284 538 286 537.9C288 537.9 290 537.8 292 537.7C294 537.7 296 537.7 298 537.6C300 537.6 302 537.6 304 537.6C306 537.6 308 537.6 310 537.6C312 537.6 314 537.5 316 537.5C318 537.5 320 537.5 322 537.4C324 537.4 326 537.4 328 537.4C330 537.3 332 537.3 334 537.3C336 537.3 338 537.2 340 537.2C342 537.2 344 537.2 346 537.2C348 537.1 350 537.1 352 537.1C354 537.1 356 537.2 358 537.2C360 537.3 362 537.3 364 537.3C366 537.4 368 537.4 370 537.4C372 537.4 374 537.5 376 537.5C378 537.5 380 537.6 382 537.7C384 537.7 386 537.8 388 537.8C390 537.9 392 537.9 394 537.9C396 538 398 538 400 538C402 538 404 538.1 406 538.1C408 538.2 410 538.2 412 538.3C414 538.4 416 538.4 418 538.5C420 538.5 422 538.5 424 538.5C426 538.5 428 538.5 430 538.5C432 538.5 434 538.5 436 538.5C438 538.5 440 538.5 442 538.5C444 538.5 446 538.5 448 538.5C450 538.5 452 538.5 454 538.5C456 538.5 458 538.5 460 538.5C462 538.4 464 538.4 466 538.4C468 538.4 470 538.4 472 538.4C474 538.4 476 538.4 478 538.3C480 538.3 482 538.2 484 538.1C486 538.1 488 538.1 490 538C492 538 494 537.9 496 537.9C498 537.8 500 537.7 502 537.7C504 537.6 506 537.6 508 537.6C510 537.5 512 537.5 514 537.4C516 537.4 518 537.4 520 537.3C522 537.3 524 537.3 526 537.3C528 537.2 530 537.2 532 537.2C534 537.2 536 537.2 538 537.2C540 537.2 542 537.2 544 537.2C546 537.2 548 537.2 550 537.2C552 537.2 554 537.2 556 537.2C558 537.1 560 537.1 562 537.1C564 537.1 566 537.1 568 537.1C570 537.1 572 537.1 574 537.1C576 537.1 579 537.1 580 537.1" fill="none" stroke="#fef3f3" stroke-width="3.2"/>
<path d="M100 552.9C101 552.9 104 552.9 106 552.9C108 552.9 110 552.9 112 552.9C114 552.9 116 552.9 118 552.9C120 552.9 122 552.9 124 552.8C126 552.8 128 552.8 130 552.8C132 552.8 134 552.8 136 552.8C138 552.8 140 552.8 142 552.8C144 552.9 146 553 148 553.1C150 553.1 152 553.3 154 553.3C156 553.4 158 553.4 160 553.4C162 553.5 164 553.6 166 553.7C168 553.8 170 553.9 172 554C174 554.2 176 554.3 178 554.4C180 554.5 182 554.6 184 554.7C186 554.7 188 554.7 190 554.7C192 554.8 194 554.9 196 554.9C198 555 200 555.1 202 555.2C204 555.3 206 555.4 208 555.5C210 555.6 212 555.6 214 555.6C216 555.7 218 555.6 220 555.6C222 555.6 224 555.6 226 555.6C228 555.6 230 555.6 232 555.6C234 555.6 236 555.6 238 555.6C240 555.6 242 555.6 244 555.6C246 555.6 248 555.6 250 555.6C252 555.6 254 555.6 256 555.6C258 555.6 260 555.6 262 555.6C264 555.6 266 555.6 268 555.5C270 555.4 272 555.3 274 555.2C276 555 278 554.9 280 554.7C282 554.6 284 554.4 286 554.3C288 554.1 290 554 292 553.9C294 553.8 296 553.7 298 553.7C300 553.7 302 553.7 304 553.7C306 553.6 308 553.6 310 553.6C312 553.5 314 553.5 316 553.4C318 553.4 320 553.3 322 553.3C324 553.2 326 553.2 328 553.1C330 553.1 332 553 334 553C336 552.9 338 552.9 340 552.8C342 552.8 344 552.7 346 552.7C348 552.7 350 552.7 352 552.7C354 552.7 356 552.8 358 552.8C360 552.9 362 553 364 553.1C366 553.2 368 553.1 370 553.2C372 553.2 374 553.3 376 553.4C378 553.5 380 553.6 382 553.7C384 553.9 386 554 388 554.1C390 554.2 392 554.2 394 554.3C396 554.3 398 554.3 400 554.4C402 554.4 404 554.5 406 554.6C408 554.7 410 554.9 412 555C414 555.1 416 555.2 418 555.3C420 555.4 422 555.4 424 555.4C426 555.4 428 555.4 430 555.4C432 555.4 434 555.5 436 555.5C438 555.5 440 555.5 442 555.5C444 555.5 446 555.5 448 555.5C450 555.5 452 555.4 454 555.4C456 555.4 458 555.3 460 555.3C462 555.3 464 555.2 466 555.2C468 555.2 470 555.2 472 555.2C474 555.1 476 555.1 478 555C480 554.9 482 554.7 484 554.6C486 554.5 488 554.5 490 554.4C492 554.3 494 554.3 496 554.2C498 554 500 553.8 502 553.7C504 553.6 506 553.6 508 553.6C510 553.5 512 553.4 514 553.3C516 553.2 518 553.1 520 553C522 553 524 553 526 552.9C528 552.9 530 552.8 532 552.8C534 552.7 536 552.8 538 552.7C540 552.7 542 552.7 544 552.7C546 552.7 548 552.7 550 552.7C552 552.7 554 552.7 556 552.7C558 552.7 560 552.7 562 552.7C564 552.7 566 552.7 568 552.7C570 552.7 572 552.7 574 552.7C576 552.7 579 552.7 580 552.7" fill="none" stroke="#fef3f3" stroke-width="3.5"/>
<path d="M100 570.4C101 570.4 104 570.4 106 570.4C108 570.4 110 570.4 112 570.4C114 570.3 116 570.3 118 570.3C120 570.3 122 570.3 124 570.3C126 570.3 128 570.2 130 570.2C132 570.2 134 570.2 136 570.2C138 570.2 140 570.2 142 570.2C144 570.3 146 570.5 148 570.6C150 570.7 152 570.9 154 571C156 571.1 158 571.1 160 571.2C162 571.2 164 571.4 166 571.5C168 571.7 170 571.9 172 572.1C174 572.3 176 572.5 178 572.6C180 572.8 182 572.9 184 573C186 573.1 188 573 190 573.1C192 573.2 194 573.3 196 573.4C198 573.5 200 573.7 202 573.8C204 574 206 574.1 208 574.2C210 574.3 212 574.4 214 574.5C216 574.5 218 574.5 220 574.5C222 574.5 224 574.5 226 574.5C228 574.4 230 574.4 232 574.4C234 574.4 236 574.4 238 574.4C240 574.4 242 574.4 244 574.4C246 574.4 248 574.4 250 574.4C252 574.4 254 574.4 256 574.4C258 574.4 260 574.5 262 574.4C264 574.4 266 574.3 268 574.2C270 574.1 272 573.9 274 573.7C276 573.5 278 573.3 280 573.1C282 572.9 284 572.6 286 572.4C288 572.2 290 572 292 571.8C294 571.7 296 571.6 298 571.5C300 571.5 302 571.5 304 571.5C306 571.5 308 571.4 310 571.4C312 571.3 314 571.2 316 571.2C318 571.1 320 571 322 570.9C324 570.9 326 570.8 328 570.7C330 570.6 332 570.5 334 570.4C336 570.4 338 570.3 340 570.2C342 570.2 344 570.1 346 570.1C348 570 350 570 352 570C354 570 356 570.1 358 570.2C360 570.4 362 570.6 364 570.6C366 570.7 368 570.7 370 570.8C372 570.9 374 571 376 571.1C378 571.2 380 571.4 382 571.6C384 571.8 386 572 388 572.1C390 572.3 392 572.4 394 572.4C396 572.5 398 572.5 400 572.5C402 572.6 404 572.8 406 573C408 573.1 410 573.3 412 573.5C414 573.7 416 573.9 418 574C420 574.1 422 574.1 424 574.1C426 574.1 428 574.1 430 574.1C432 574.2 434 574.2 436 574.2C438 574.2 440 574.2 442 574.2C444 574.2 446 574.2 448 574.2C450 574.2 452 574.1 454 574.1C456 574.1 458 574 460 574C462 573.9 464 573.9 466 573.8C468 573.8 470 573.8 472 573.8C474 573.7 476 573.7 478 573.5C480 573.4 482 573.1 484 573C486 572.8 488 572.8 490 572.6C492 572.5 494 572.4 496 572.2C498 572.1 500 571.7 502 571.6C504 571.4 506 571.5 508 571.4C510 571.2 512 571 514 570.9C516 570.8 518 570.7 520 570.6C522 570.5 524 570.5 526 570.4C528 570.3 530 570.2 532 570.1C534 570.1 536 570.1 538 570.1C540 570.1 542 570.1 544 570.1C546 570.1 548 570.1 550 570.1C552 570.1 554 570.1 556 570.1C558 570 560 570 562 570C564 570 566 570 568 570C570 570 572 570 574 570C576 570 579 570 580 570" fill="none" stroke="#fef3f3" stroke-width="3.8"/>
<path d="M100 590C101 590 104 590.1 106 590C108 590 110 590 112 590C114 590 116 590 118 590C120 589.9 122 589.9 124 589.9C126 589.9 128 589.9 130 589.8C132 589.8 134 589.8 136 589.8C138 589.8 140 589.8 142 589.8C144 589.9 146 590.1 148 590.3C150 590.5 152 590.8 154 590.9C156 591 158 591 160 591.1C162 591.2 164 591.3 166 591.5C168 591.7 170 592 172 592.3C174 592.6 176 592.9 178 593.1C180 593.3 182 593.4 184 593.5C186 593.6 188 593.6 190 593.6C192 593.7 194 593.9 196 594.1C198 594.2 200 594.5 202 594.7C204 594.8 206 595.1 208 595.2C210 595.3 212 595.4 214 595.5C216 595.5 218 595.5 220 595.5C222 595.5 224 595.5 226 595.5C228 595.5 230 595.5 232 595.5C234 595.5 236 595.5 238 595.5C240 595.4 242 595.4 244 595.4C246 595.4 248 595.4 250 595.4C252 595.4 254 595.4 256 595.4C258 595.4 260 595.5 262 595.4C264 595.4 266 595.3 268 595.2C270 595 272 594.8 274 594.5C276 594.3 278 593.9 280 593.6C282 593.3 284 593 286 592.7C288 592.5 290 592.2 292 592C294 591.8 296 591.7 298 591.6C300 591.5 302 591.6 304 591.5C306 591.5 308 591.4 310 591.4C312 591.3 314 591.2 316 591.1C318 591 320 590.9 322 590.8C324 590.7 326 590.5 328 590.4C330 590.3 332 590.2 334 590.1C336 590 338 589.9 340 589.8C342 589.7 344 589.7 346 589.6C348 589.6 350 589.5 352 589.5C354 589.5 356 589.7 358 589.9C360 590 362 590.3 364 590.4C366 590.5 368 590.5 370 590.6C372 590.7 374 590.8 376 591C378 591.2 380 591.4 382 591.7C384 591.9 386 592.2 388 592.4C390 592.5 392 592.7 394 592.8C396 592.9 398 592.8 400 592.9C402 593 404 593.3 406 593.5C408 593.7 410 594 412 594.2C414 594.4 416 594.7 418 594.8C420 594.9 422 595 424 595C426 595 428 595 430 595.1C432 595.1 434 595.1 436 595.1C438 595.2 440 595.2 442 595.2C444 595.2 446 595.2 448 595.2C450 595.1 452 595.1 454 595C456 594.9 458 594.9 460 594.8C462 594.8 464 594.7 466 594.6C468 594.6 470 594.6 472 594.6C474 594.5 476 594.4 478 594.2C480 594.1 482 593.7 484 593.5C486 593.3 488 593.2 490 593C492 592.9 494 592.8 496 592.5C498 592.3 500 591.9 502 591.7C504 591.5 506 591.5 508 591.3C510 591.2 512 590.9 514 590.7C516 590.6 518 590.4 520 590.3C522 590.2 524 590.2 526 590.1C528 590 530 589.8 532 589.7C534 589.7 536 589.7 538 589.7C540 589.7 542 589.7 544 589.7C546 589.7 548 589.7 550 589.6C552 589.6 554 589.6 556 589.6C558 589.6 560 589.6 562 589.6C564 589.6 566 589.5 568 589.5C570 589.5 572 589.5 574 589.5C576 589.5 579 589.5 580 589.5" fill="none" stroke="#fef3f3" stroke-width="4"/>
<path d="M104 524V537.8M125.5 524V537.7M147 524V537.8M168.5 524V538.2M190 524V538.7M211.5 524V539.1M233 524V539.1M254.5 524V539.1M276 524V538.8M297.5 524V538.1M319 524V538M340.5 524V537.7M362 524V537.8M383.5 524V538.2M405 524V538.6M426.5 524V539M448 524V539M469.5 524V538.9M491 524V538.5M512.5 524V538M534 524V537.7M555.5 524V537.7" stroke="#fef3f3" stroke-width="3.6" fill="none"/>
<path d="M117.6 536.7V553.4M139.1 536.7V553.3M160.6 537V554M182.1 537.6V555.1M203.6 538V555.8M225.1 538.1V556.1M246.6 538.1V556.1M268.1 538V556M289.6 537.3V554.5M311.1 537.1V554.1M332.6 536.8V553.5M354.1 536.6V553.2M375.6 537V553.9M397.1 537.5V554.8M418.6 538V555.8M440.1 538V556M461.6 537.9V555.8M483.1 537.6V555.2M504.6 537.1V554.1M526.1 536.8V553.4M547.6 536.7V553.2M569.1 536.6V553.2" stroke="#fef3f3" stroke-width="3.6" fill="none"/>
<path d="M110.2 552.4V570.9M131.7 552.3V570.7M153.2 552.8V571.5M174.7 553.7V572.8M196.2 554.4V573.9M217.7 555.1V575M239.2 555.1V574.9M260.7 555.1V574.9M282.2 554.1V573.3M303.7 553.2V572M325.2 552.7V571.3M346.7 552.2V570.6M368.2 552.7V571.3M389.7 553.7V572.7M411.2 554.5V573.9M432.7 554.9V574.7M454.2 554.9V574.6M475.7 554.6V574.2M497.2 553.6V572.6M518.7 552.6V571.1M540.2 552.2V570.6M561.7 552.2V570.5" stroke="#fef3f3" stroke-width="3.6" fill="none"/>
<path d="M123.8 569.8V590.4M145.3 569.9V590.6M166.8 571.1V592.1M188.3 572.5V594.1M209.8 573.8V595.8M231.3 573.9V596M252.8 573.9V595.9M274.3 573.2V595M295.8 571.1V592.2M317.3 570.6V591.5M338.8 569.8V590.4M360.3 569.9V590.6M381.8 571.1V592.2M403.3 572.2V593.7M424.8 573.6V595.5M446.3 573.7V595.7M467.8 573.3V595.1M489.3 572.1V593.6M510.8 570.7V591.6M532.3 569.6V590.2M553.8 569.6V590.1M575.3 569.5V590" stroke="#fef3f3" stroke-width="3.6" fill="none"/>
<path d="M159.4 590.6V596.1M180.9 592.8V605.1M202.4 594.2V610.6M223.9 595V613.7M245.4 594.9V613.6M266.9 594.7V612.8M288.4 591.9V601.5M309.9 590.9V597.2M331.4 589.7V592.8M374.4 590.3V595.2M395.9 592.3V603M417.4 594.3V610.8M438.9 594.7V612.5M460.4 594.3V611M481.9 593.2V606.8M503.4 591V597.9" stroke="#fef3f3" stroke-width="3.6" fill="none"/>
<path d="M103 519.7H573" stroke="#f6b4c0" stroke-width="4.2" stroke-dasharray="15 5.5" fill="none"/>
<path d="M103 519.7H573" stroke="#fbdadf" stroke-width="1.4" stroke-dasharray="2 2.5" fill="none"/>
<path d="M103 510.7H573" stroke="#e4b8c8" stroke-width="2.4" stroke-dasharray="13 7" stroke-dashoffset="4" fill="none"/>
<rect x="100" y="477" width="480" height="28.5" fill="#fdf1d4"/>
<path d="M103 483H573" stroke="#6a5030" stroke-width="0.85" stroke-dasharray="20 2.5" stroke-dashoffset="0" fill="none" opacity="0.75"/>
<path d="M103 488H573" stroke="#6a5030" stroke-width="0.85" stroke-dasharray="19 2.5" stroke-dashoffset="7" fill="none" opacity="0.75"/>
<path d="M103 492.8H573" stroke="#6a5030" stroke-width="0.85" stroke-dasharray="20 2.5" stroke-dashoffset="14" fill="none" opacity="0.75"/>
<path d="M103 497.5H573" stroke="#6a5030" stroke-width="0.85" stroke-dasharray="5 1.5 6 1.5 4 2" stroke-dashoffset="21" fill="none" opacity="0.75"/>
<path d="M103 502.4H573" stroke="#6a5030" stroke-width="0.85" stroke-dasharray="5 1.5 4 1.5 6 2" stroke-dashoffset="28" fill="none" opacity="0.75"/>
<path d="M103 478H573" stroke="#c98a5a" stroke-width="1.2" fill="none" opacity="0.8"/>
<rect x="100" y="503.5" width="480" height="4" fill="#fdf0c4" opacity="0"/>
</g>
<path d="M322 460.3L335 460.3L415 840L246 840Z" fill="url(#gBeam)"/>
<path d="M117 634C122.7 631.9 124.3 623.1 130 621" fill="none" stroke="#f0a2c4" stroke-width="3.2" stroke-linecap="round" opacity="0.75"/>
<path d="M118 635.5C123.7 633.4 125.3 624.6 131 622.5" fill="none" stroke="#d4a0d8" stroke-width="1.6" stroke-linecap="round" opacity="0.45"/>
<path d="M113 802C118 799.3 118 790.7 123 788" fill="none" stroke="#f0a2c4" stroke-width="3.2" stroke-linecap="round" opacity="0.75"/>
<path d="M114 803.5C119 800.8 119 792.2 124 789.5" fill="none" stroke="#d4a0d8" stroke-width="1.6" stroke-linecap="round" opacity="0.45"/>
<path d="M238 752C246.6 749.3 253.4 738.7 262 736" fill="none" stroke="#f0a2c4" stroke-width="3.2" stroke-linecap="round" opacity="0.75"/>
<path d="M239 753.5C247.6 750.8 254.4 740.2 263 737.5" fill="none" stroke="#d4a0d8" stroke-width="1.6" stroke-linecap="round" opacity="0.45"/>
<path d="M442 634C445.6 639.9 455.4 641.1 459 647" fill="none" stroke="#f0a2c4" stroke-width="3.2" stroke-linecap="round" opacity="0.75"/>
<path d="M443 635.5C446.6 641.4 456.4 642.6 460 648.5" fill="none" stroke="#d4a0d8" stroke-width="1.6" stroke-linecap="round" opacity="0.45"/>
<path d="M446 689C455.9 685 464.1 673 474 669" fill="none" stroke="#f0a2c4" stroke-width="3.2" stroke-linecap="round" opacity="0.75"/>
<path d="M447 690.5C456.9 686.5 465.1 674.5 475 670.5" fill="none" stroke="#d4a0d8" stroke-width="1.6" stroke-linecap="round" opacity="0.45"/>
<path d="M370 694C377.2 701 390.8 703 398 710" fill="none" stroke="#f0a2c4" stroke-width="3.2" stroke-linecap="round" opacity="0.75"/>
<path d="M371 695.5C378.2 702.5 391.8 704.5 399 711.5" fill="none" stroke="#d4a0d8" stroke-width="1.6" stroke-linecap="round" opacity="0.45"/>
<path d="M538 749C544.9 747.1 549.1 737.9 556 736" fill="none" stroke="#f0a2c4" stroke-width="3.2" stroke-linecap="round" opacity="0.75"/>
<path d="M539 750.5C545.9 748.6 550.1 739.4 557 737.5" fill="none" stroke="#d4a0d8" stroke-width="1.6" stroke-linecap="round" opacity="0.45"/>
<path d="M518 688C521 694.6 531 697.4 534 704" fill="none" stroke="#f0a2c4" stroke-width="3.2" stroke-linecap="round" opacity="0.75"/>
<path d="M519 689.5C522 696.1 532 698.9 535 705.5" fill="none" stroke="#d4a0d8" stroke-width="1.6" stroke-linecap="round" opacity="0.45"/>
<path d="M406 790C412.1 786.8 413.9 777.2 420 774" fill="none" stroke="#f0a2c4" stroke-width="3.2" stroke-linecap="round" opacity="0.75"/>
<path d="M407 791.5C413.1 788.3 414.9 778.7 421 775.5" fill="none" stroke="#d4a0d8" stroke-width="1.6" stroke-linecap="round" opacity="0.45"/>
<path d="M300 812C310.2 809.4 319.8 798.6 330 796" fill="none" stroke="#f0a2c4" stroke-width="3.2" stroke-linecap="round" opacity="0.75"/>
<path d="M301 813.5C311.2 810.9 320.8 800.1 331 797.5" fill="none" stroke="#d4a0d8" stroke-width="1.6" stroke-linecap="round" opacity="0.45"/>
<path d="M258 841C266.8 838.6 274.2 828.4 283 826" fill="none" stroke="#f0a2c4" stroke-width="3.2" stroke-linecap="round" opacity="0.75"/>
<path d="M259 842.5C267.8 840.1 275.2 829.9 284 827.5" fill="none" stroke="#d4a0d8" stroke-width="1.6" stroke-linecap="round" opacity="0.45"/>
<path d="M430 812C440.5 810.7 451.5 801.3 462 800" fill="none" stroke="#f0a2c4" stroke-width="3.2" stroke-linecap="round" opacity="0.75"/>
<path d="M431 813.5C441.5 812.2 452.5 802.8 463 801.5" fill="none" stroke="#d4a0d8" stroke-width="1.6" stroke-linecap="round" opacity="0.45"/>
<path d="M205 760C211.5 758.4 215.5 749.6 222 748" fill="none" stroke="#f0a2c4" stroke-width="3.2" stroke-linecap="round" opacity="0.75"/>
<path d="M206 761.5C212.5 759.9 216.5 751.1 223 749.5" fill="none" stroke="#d4a0d8" stroke-width="1.6" stroke-linecap="round" opacity="0.45"/>
<path d="M492 753C484 756 482 766 489 773C486 766 487 758 492 753Z" fill="#f49ab8" stroke="#f49ab8" stroke-width="2" opacity="0.9"/>
<g transform="translate(120 656.5) rotate(-20) scale(1.0)"><path d="M-7 0C-3 -5 3 -5 7 0C3 5 -3 5 -7 0Z" fill="#d8f06a" stroke="#d8f06a" stroke-width="2.2"/><path d="M-7 0C-3 -5 3 -5 7 0C3 5 -3 5 -7 0Z" fill="#63cf3a"/><ellipse cx="0" cy="0" rx="3" ry="2.2" fill="#1f7a1a" opacity="0.55"/><circle cx="0" cy="0" r="1.1" fill="#0c3a10"/></g>
<g transform="translate(207 728) rotate(-40) scale(1.0)"><path d="M-7 0C-3 -5 3 -5 7 0C3 5 -3 5 -7 0Z" fill="#d8f06a" stroke="#d8f06a" stroke-width="2.2"/><path d="M-7 0C-3 -5 3 -5 7 0C3 5 -3 5 -7 0Z" fill="#63cf3a"/><ellipse cx="0" cy="0" rx="3" ry="2.2" fill="#1f7a1a" opacity="0.55"/><circle cx="0" cy="0" r="1.1" fill="#0c3a10"/></g>
<g transform="translate(235.5 800) rotate(-45) scale(1.0)"><path d="M-7 0C-3 -5 3 -5 7 0C3 5 -3 5 -7 0Z" fill="#d8f06a" stroke="#d8f06a" stroke-width="2.2"/><path d="M-7 0C-3 -5 3 -5 7 0C3 5 -3 5 -7 0Z" fill="#63cf3a"/><ellipse cx="0" cy="0" rx="3" ry="2.2" fill="#1f7a1a" opacity="0.55"/><circle cx="0" cy="0" r="1.1" fill="#0c3a10"/></g>
<g transform="translate(357 743) rotate(60) scale(1.0)"><path d="M-7 0C-3 -5 3 -5 7 0C3 5 -3 5 -7 0Z" fill="#d8f06a" stroke="#d8f06a" stroke-width="2.2"/><path d="M-7 0C-3 -5 3 -5 7 0C3 5 -3 5 -7 0Z" fill="#63cf3a"/><ellipse cx="0" cy="0" rx="3" ry="2.2" fill="#1f7a1a" opacity="0.55"/><circle cx="0" cy="0" r="1.1" fill="#0c3a10"/></g>
<g transform="translate(404 677) rotate(-50) scale(1.0)"><path d="M-7 0C-3 -5 3 -5 7 0C3 5 -3 5 -7 0Z" fill="#d8f06a" stroke="#d8f06a" stroke-width="2.2"/><path d="M-7 0C-3 -5 3 -5 7 0C3 5 -3 5 -7 0Z" fill="#63cf3a"/><ellipse cx="0" cy="0" rx="3" ry="2.2" fill="#1f7a1a" opacity="0.55"/><circle cx="0" cy="0" r="1.1" fill="#0c3a10"/></g>
<g transform="translate(560 711) rotate(35) scale(1.0)"><path d="M-7 0C-3 -5 3 -5 7 0C3 5 -3 5 -7 0Z" fill="#d8f06a" stroke="#d8f06a" stroke-width="2.2"/><path d="M-7 0C-3 -5 3 -5 7 0C3 5 -3 5 -7 0Z" fill="#63cf3a"/><ellipse cx="0" cy="0" rx="3" ry="2.2" fill="#1f7a1a" opacity="0.55"/><circle cx="0" cy="0" r="1.1" fill="#0c3a10"/></g>
<g transform="translate(342 636) rotate(-10) scale(0.9)"><path d="M-7 0C-3 -5 3 -5 7 0C3 5 -3 5 -7 0Z" fill="#e8903a" stroke="#e8903a" stroke-width="2.2"/><path d="M-7 0C-3 -5 3 -5 7 0C3 5 -3 5 -7 0Z" fill="#c98a2a"/><ellipse cx="0" cy="0" rx="3" ry="2.2" fill="#7a4a10" opacity="0.55"/><circle cx="0" cy="0" r="1.1" fill="#0c3a10"/></g>
<g clip-path="url(#cFront)">
<path d="M102 862.8C106.7 861.7 120.3 858.8 130 856C139.7 853.2 150 848.9 160 846C170 843.1 180.7 840.3 190 838.5C199.3 836.7 201.3 835.6 216 835C230.7 834.4 264 834 278 835C292 836 292.4 838.5 300 841C307.6 843.5 315.1 846.9 323.4 849.7C331.7 852.5 341.4 855.9 350 858C358.6 860.1 367 861.5 375 862.5C383 863.5 385.2 863.8 398 864C410.8 864.2 438.9 864.8 451.7 864C464.5 863.2 467.4 861 475 859C482.6 857 489.7 854.2 497.2 851.7C504.7 849.2 512 846.2 520 844C528 841.8 536 839.8 545 838.5C554 837.2 569.2 836.4 574 836" fill="none" stroke="#fbeee6" stroke-width="5.6" opacity="0.8" transform="translate(0,1.2)"/>
<path d="M102 862.8C106.7 861.7 120.3 858.8 130 856C139.7 853.2 150 848.9 160 846C170 843.1 180.7 840.3 190 838.5C199.3 836.7 201.3 835.6 216 835C230.7 834.4 264 834 278 835C292 836 292.4 838.5 300 841C307.6 843.5 315.1 846.9 323.4 849.7C331.7 852.5 341.4 855.9 350 858C358.6 860.1 367 861.5 375 862.5C383 863.5 385.2 863.8 398 864C410.8 864.2 438.9 864.8 451.7 864C464.5 863.2 467.4 861 475 859C482.6 857 489.7 854.2 497.2 851.7C504.7 849.2 512 846.2 520 844C528 841.8 536 839.8 545 838.5C554 837.2 569.2 836.4 574 836" fill="none" stroke="#5b69a8" stroke-width="3.5"/>
<path d="M102 838.7C105.8 839.8 117.8 842.8 125 845C132.2 847.2 138 849.2 145.5 851.7C153 854.2 162.6 857.9 170 860C177.4 862.1 183.7 863.5 190 864.5C196.3 865.5 193.6 865.8 207.6 866C221.6 866.2 258.4 867.3 273.8 866C289.2 864.7 291.7 860.7 300 858C308.3 855.3 315.1 852.5 323.4 849.7C331.7 846.9 342.2 843 350 841C357.8 839 363.4 838.3 370 837.5C376.6 836.7 376.1 836.5 389.7 836.4C403.3 836.3 437.5 835.7 451.7 837C465.9 838.3 467.4 841.5 475 844C482.6 846.5 489.7 849.2 497.2 851.7C504.7 854.2 512 857 520 859C528 861 536 862.8 545 864C554 865.2 569.2 865.7 574 866" fill="none" stroke="#cf4424" stroke-width="2.8"/>
</g>
<g><linearGradient id="gVbL" x1="0" y1="640.3" x2="0" y2="731.7" gradientUnits="userSpaceOnUse"><stop offset="0" stop-color="#2c2c44"/><stop offset="0.22" stop-color="#4460c8"/><stop offset="0.55" stop-color="#4a5cc0"/><stop offset="0.75" stop-color="#33335a"/><stop offset="1" stop-color="#2b2a40"/></linearGradient>
<linearGradient id="gVrL" x1="0" y1="640.3" x2="0" y2="731.7" gradientUnits="userSpaceOnUse"><stop offset="0" stop-color="#4a3018"/><stop offset="0.22" stop-color="#e04418"/><stop offset="0.55" stop-color="#d03a18"/><stop offset="0.75" stop-color="#6a3014"/><stop offset="1" stop-color="#4a2414"/></linearGradient>
<path d="M162.2 653.3C162.3 655.7 162.7 662.9 163 667.9C163.3 672.9 163.7 680.8 163.9 683.4" fill="none" stroke="#fdf3ee" stroke-width="12" opacity="0.28" stroke-linecap="round"/>
<path d="M170.8 644.2C169.6 644.6 165.8 645.1 163.9 646.4C162 647.6 160.6 649.2 159.6 651.5C158.5 653.8 158 657.7 157.7 660.1C157.4 662.6 157.7 663.5 157.7 666.2C157.7 668.9 157.6 672.9 157.5 676.5C157.5 680.1 157.4 684.6 157.4 687.7C157.4 690.9 157.2 692.6 157.4 695.5C157.6 698.4 157.9 701.8 158.7 705C159.5 708.1 160.9 711.2 162.2 714.5C163.5 717.8 165.6 721.9 166.5 724.8C167.4 727.7 167.3 730.6 167.5 731.7V844.8" fill="none" stroke="url(#gVbL)" stroke-width="2" stroke-linecap="round"/>
<path d="M176.4 644.2C177.5 644.6 181.4 645.1 183.3 646.4C185.2 647.6 186.8 649.2 187.9 651.5C188.9 653.8 189.4 657.7 189.8 660.1C190.1 662.6 189.9 663.5 189.9 666.2C190 668.9 189.9 672.9 189.9 676.5C189.9 680.1 189.9 684.6 189.9 687.7C189.9 690.9 190 692.6 189.9 695.5C189.8 698.4 190.1 701.8 189.3 705C188.6 708.1 186.8 711.2 185.4 714.5C184.1 717.8 182 721.9 181.1 724.8C180.3 727.7 180.4 730.6 180.3 731.7V862.3" fill="none" stroke="url(#gVrL)" stroke-width="2" stroke-linecap="round"/>
<path d="M157.9 667.9C158.3 666.6 159.3 662.2 160.4 660.1C161.6 658.1 163.1 656.8 164.8 655.8C166.4 654.8 169.4 654.4 170.4 654.1" fill="none" stroke="url(#gVbL)" stroke-width="1.9" stroke-linecap="round"/>
<path d="M164.8 655.8C165.7 655.6 169.4 654.4 170.4 654.1" fill="none" stroke="#2b2633" stroke-width="1.9" stroke-linecap="round"/>
<path d="M189.5 667.9C189.1 666.6 188.1 662.2 186.9 660.1C185.8 658.1 184.3 656.8 182.6 655.8C180.9 654.8 177.9 654.4 177 654.1" fill="none" stroke="url(#gVrL)" stroke-width="1.9" stroke-linecap="round"/>
<path d="M182.6 655.8C181.7 655.6 177.9 654.4 177 654.1" fill="none" stroke="#4a3018" stroke-width="1.9" stroke-linecap="round"/>
<path d="M157.9 676.5C158.3 675.2 159.3 670.7 160.4 668.8C161.6 666.8 163.1 665.8 164.8 664.9C166.4 664 169.4 663.8 170.4 663.6" fill="none" stroke="url(#gVbL)" stroke-width="1.9" stroke-linecap="round"/>
<path d="M164.8 664.9C165.7 664.7 169.4 663.8 170.4 663.6" fill="none" stroke="#2b2633" stroke-width="1.9" stroke-linecap="round"/>
<path d="M189.5 676.5C189.1 675.2 188.1 670.7 186.9 668.8C185.8 666.8 184.3 665.8 182.6 664.9C180.9 664 177.9 663.8 177 663.6" fill="none" stroke="url(#gVrL)" stroke-width="1.9" stroke-linecap="round"/>
<path d="M182.6 664.9C181.7 664.7 177.9 663.8 177 663.6" fill="none" stroke="#4a3018" stroke-width="1.9" stroke-linecap="round"/>
<path d="M157.9 684.3C158.4 683.2 159.7 679.5 160.9 677.8C162.1 676.2 163.5 675.2 165.2 674.4C166.8 673.6 169.9 673.2 170.8 672.9" fill="none" stroke="url(#gVbL)" stroke-width="1.9" stroke-linecap="round"/>
<path d="M165.2 674.4C166.1 674.1 169.9 673.2 170.8 672.9" fill="none" stroke="#2b2633" stroke-width="1.9" stroke-linecap="round"/>
<path d="M189.5 684.3C189 683.2 187.7 679.5 186.5 677.8C185.3 676.2 183.8 675.2 182.2 674.4C180.5 673.6 177.5 673.2 176.6 672.9" fill="none" stroke="url(#gVrL)" stroke-width="1.9" stroke-linecap="round"/>
<path d="M182.2 674.4C181.2 674.1 177.5 673.2 176.6 672.9" fill="none" stroke="#4a3018" stroke-width="1.9" stroke-linecap="round"/>
<path d="M158.3 692C158.8 691.2 160.1 688.3 161.3 686.9C162.5 685.4 164 684.2 165.6 683.4C167.2 682.6 169.9 682.3 170.8 682.1" fill="none" stroke="url(#gVbL)" stroke-width="1.9" stroke-linecap="round"/>
<path d="M165.6 683.4C166.5 683.2 169.9 682.3 170.8 682.1" fill="none" stroke="#2b2633" stroke-width="1.9" stroke-linecap="round"/>
<path d="M189.1 692C188.6 691.2 187.3 688.3 186 686.9C184.8 685.4 183.3 684.2 181.7 683.4C180.2 682.6 177.4 682.3 176.6 682.1" fill="none" stroke="url(#gVrL)" stroke-width="1.9" stroke-linecap="round"/>
<path d="M181.7 683.4C180.9 683.2 177.4 682.3 176.6 682.1" fill="none" stroke="#4a3018" stroke-width="1.9" stroke-linecap="round"/>
<path d="M170.8 644.2C169.6 644.6 165.8 645.1 163.9 646.4C162 647.6 160.3 650.7 159.6 651.5" fill="none" stroke="#2b2633" stroke-width="1.9" stroke-linecap="round"/>
<path d="M176.4 644.2C177.5 644.6 181.4 645.1 183.3 646.4C185.2 647.6 187.1 650.7 187.9 651.5" fill="none" stroke="#4a3018" stroke-width="1.9" stroke-linecap="round"/>
<path d="M157.4 662.7C156.3 661.9 152.5 659.4 151 657.6C149.4 655.7 148.4 654 147.9 651.5C147.5 649.1 148.3 644.3 148.4 642.9" fill="none" stroke="#3a4aa8" stroke-width="1.9" stroke-linecap="round"/>
<path d="M151 657.6C150.5 656.6 148.4 654 147.9 651.5C147.5 649.1 148.3 644.3 148.4 642.9" fill="none" stroke="#2b2633" stroke-width="1.9" stroke-linecap="round"/>
<path d="M189.9 662.7C191 661.9 194.8 659.4 196.4 657.6C198 655.7 199 654 199.4 651.5C199.8 649.1 199.1 644.3 199 642.9" fill="none" stroke="#c83a18" stroke-width="1.9" stroke-linecap="round"/>
<path d="M196.4 657.6C196.9 656.6 199 654 199.4 651.5C199.8 649.1 199.1 644.3 199 642.9" fill="none" stroke="#4a3018" stroke-width="1.9" stroke-linecap="round"/>
<path d="M157.4 669.6C156.3 668.9 153.5 666.3 151 665.3C148.4 664.3 144.6 664.7 142.3 663.6C140 662.4 138.2 660.2 137.2 658.4C136.2 656.6 136.5 653.8 136.3 652.8" fill="none" stroke="#3a4aa8" stroke-width="1.9" stroke-linecap="round"/>
<path d="M151 665.3C149.5 665 144.6 664.7 142.3 663.6C140 662.4 138.2 660.2 137.2 658.4C136.2 656.6 136.5 653.8 136.3 652.8" fill="none" stroke="#2b2633" stroke-width="1.9" stroke-linecap="round"/>
<path d="M189.9 669.6C191 668.9 193.9 666.3 196.4 665.3C198.9 664.3 202.7 664.7 205 663.6C207.3 662.4 209.2 660.2 210.2 658.4C211.2 656.6 210.9 653.8 211 652.8" fill="none" stroke="#c83a18" stroke-width="1.9" stroke-linecap="round"/>
<path d="M196.4 665.3C197.8 665 202.7 664.7 205 663.6C207.3 662.4 209.2 660.2 210.2 658.4C211.2 656.6 210.9 653.8 211 652.8" fill="none" stroke="#4a3018" stroke-width="1.9" stroke-linecap="round"/>
<path d="M157.4 678.3C156.6 677.5 154.3 674.9 152.7 673.9C151 673 148.9 672.7 147.5 672.6C146.1 672.6 145 673.4 144.5 673.5" fill="none" stroke="#3a4aa8" stroke-width="1.9" stroke-linecap="round"/>
<path d="M152.7 673.9C151.8 673.7 148.9 672.7 147.5 672.6C146.1 672.6 145 673.4 144.5 673.5" fill="none" stroke="#2b2633" stroke-width="1.9" stroke-linecap="round"/>
<path d="M189.9 678.3C190.7 677.5 193 674.9 194.7 673.9C196.3 673 198.5 672.7 199.8 672.6C201.2 672.6 202.4 673.4 202.9 673.5" fill="none" stroke="#c83a18" stroke-width="1.9" stroke-linecap="round"/>
<path d="M194.7 673.9C195.5 673.7 198.5 672.7 199.8 672.6C201.2 672.6 202.4 673.4 202.9 673.5" fill="none" stroke="#4a3018" stroke-width="1.9" stroke-linecap="round"/></g>
<g><linearGradient id="gVbR" x1="0" y1="616.6" x2="0" y2="708" gradientUnits="userSpaceOnUse"><stop offset="0" stop-color="#2c2c44"/><stop offset="0.22" stop-color="#4460c8"/><stop offset="0.55" stop-color="#4a5cc0"/><stop offset="0.75" stop-color="#33335a"/><stop offset="1" stop-color="#2b2a40"/></linearGradient>
<linearGradient id="gVrR" x1="0" y1="616.6" x2="0" y2="708" gradientUnits="userSpaceOnUse"><stop offset="0" stop-color="#4a3018"/><stop offset="0.22" stop-color="#e04418"/><stop offset="0.55" stop-color="#d03a18"/><stop offset="0.75" stop-color="#6a3014"/><stop offset="1" stop-color="#4a2414"/></linearGradient>
<path d="M517.1 629.6C517.2 632 517.6 639.2 517.9 644.2C518.2 649.2 518.6 657.1 518.8 659.7" fill="none" stroke="#fdf3ee" stroke-width="12" opacity="0.28" stroke-linecap="round"/>
<path d="M525.7 620.5C524.5 620.9 520.7 621.4 518.8 622.7C516.9 623.9 515.5 625.5 514.5 627.8C513.4 630.1 512.9 634 512.6 636.4C512.3 638.9 512.6 639.8 512.6 642.5C512.6 645.2 512.5 649.2 512.4 652.8C512.4 656.4 512.3 660.9 512.3 664C512.3 667.2 512.1 668.9 512.3 671.8C512.5 674.7 512.8 678.1 513.6 681.3C514.4 684.4 515.8 687.5 517.1 690.8C518.4 694.1 520.5 698.2 521.4 701.1C522.3 704 522.2 706.9 522.4 708V843.9" fill="none" stroke="url(#gVbR)" stroke-width="2" stroke-linecap="round"/>
<path d="M531.3 620.5C532.4 620.9 536.3 621.4 538.2 622.7C540.1 623.9 541.7 625.5 542.8 627.8C543.8 630.1 544.3 634 544.7 636.4C545 638.9 544.8 639.8 544.8 642.5C544.9 645.2 544.8 649.2 544.8 652.8C544.8 656.4 544.8 660.9 544.8 664C544.8 667.2 544.9 668.9 544.8 671.8C544.7 674.7 545 678.1 544.2 681.3C543.5 684.4 541.7 687.5 540.3 690.8C539 694.1 536.9 698.2 536 701.1C535.2 704 535.3 706.9 535.2 708V862.3" fill="none" stroke="url(#gVrR)" stroke-width="2" stroke-linecap="round"/>
<path d="M512.8 644.2C513.2 642.9 514.2 638.5 515.3 636.4C516.5 634.4 518 633.1 519.7 632.1C521.3 631.1 524.3 630.7 525.3 630.4" fill="none" stroke="url(#gVbR)" stroke-width="1.9" stroke-linecap="round"/>
<path d="M519.7 632.1C520.6 631.9 524.3 630.7 525.3 630.4" fill="none" stroke="#2b2633" stroke-width="1.9" stroke-linecap="round"/>
<path d="M544.4 644.2C544 642.9 543 638.5 541.8 636.4C540.7 634.4 539.2 633.1 537.5 632.1C535.8 631.1 532.8 630.7 531.9 630.4" fill="none" stroke="url(#gVrR)" stroke-width="1.9" stroke-linecap="round"/>
<path d="M537.5 632.1C536.6 631.9 532.8 630.7 531.9 630.4" fill="none" stroke="#4a3018" stroke-width="1.9" stroke-linecap="round"/>
<path d="M512.8 652.8C513.2 651.5 514.2 647 515.3 645.1C516.5 643.1 518 642.1 519.7 641.2C521.3 640.3 524.3 640.1 525.3 639.9" fill="none" stroke="url(#gVbR)" stroke-width="1.9" stroke-linecap="round"/>
<path d="M519.7 641.2C520.6 641 524.3 640.1 525.3 639.9" fill="none" stroke="#2b2633" stroke-width="1.9" stroke-linecap="round"/>
<path d="M544.4 652.8C544 651.5 543 647 541.8 645.1C540.7 643.1 539.2 642.1 537.5 641.2C535.8 640.3 532.8 640.1 531.9 639.9" fill="none" stroke="url(#gVrR)" stroke-width="1.9" stroke-linecap="round"/>
<path d="M537.5 641.2C536.6 641 532.8 640.1 531.9 639.9" fill="none" stroke="#4a3018" stroke-width="1.9" stroke-linecap="round"/>
<path d="M512.8 660.6C513.3 659.5 514.6 655.8 515.8 654.1C517 652.5 518.4 651.5 520.1 650.7C521.7 649.9 524.8 649.5 525.7 649.2" fill="none" stroke="url(#gVbR)" stroke-width="1.9" stroke-linecap="round"/>
<path d="M520.1 650.7C521 650.4 524.8 649.5 525.7 649.2" fill="none" stroke="#2b2633" stroke-width="1.9" stroke-linecap="round"/>
<path d="M544.4 660.6C543.9 659.5 542.6 655.8 541.4 654.1C540.2 652.5 538.7 651.5 537.1 650.7C535.4 649.9 532.4 649.5 531.5 649.2" fill="none" stroke="url(#gVrR)" stroke-width="1.9" stroke-linecap="round"/>
<path d="M537.1 650.7C536.1 650.4 532.4 649.5 531.5 649.2" fill="none" stroke="#4a3018" stroke-width="1.9" stroke-linecap="round"/>
<path d="M513.2 668.3C513.7 667.5 515 664.6 516.2 663.2C517.4 661.7 518.9 660.5 520.5 659.7C522.1 658.9 524.8 658.6 525.7 658.4" fill="none" stroke="url(#gVbR)" stroke-width="1.9" stroke-linecap="round"/>
<path d="M520.5 659.7C521.4 659.5 524.8 658.6 525.7 658.4" fill="none" stroke="#2b2633" stroke-width="1.9" stroke-linecap="round"/>
<path d="M544 668.3C543.5 667.5 542.2 664.6 540.9 663.2C539.7 661.7 538.2 660.5 536.6 659.7C535.1 658.9 532.3 658.6 531.5 658.4" fill="none" stroke="url(#gVrR)" stroke-width="1.9" stroke-linecap="round"/>
<path d="M536.6 659.7C535.8 659.5 532.3 658.6 531.5 658.4" fill="none" stroke="#4a3018" stroke-width="1.9" stroke-linecap="round"/>
<path d="M525.7 620.5C524.5 620.9 520.7 621.4 518.8 622.7C516.9 623.9 515.2 627 514.5 627.8" fill="none" stroke="#2b2633" stroke-width="1.9" stroke-linecap="round"/>
<path d="M531.3 620.5C532.4 620.9 536.3 621.4 538.2 622.7C540.1 623.9 542 627 542.8 627.8" fill="none" stroke="#4a3018" stroke-width="1.9" stroke-linecap="round"/>
<path d="M512.3 639C511.2 638.2 507.4 635.7 505.9 633.9C504.3 632 503.3 630.3 502.8 627.8C502.4 625.4 503.2 620.6 503.3 619.2" fill="none" stroke="#3a4aa8" stroke-width="1.9" stroke-linecap="round"/>
<path d="M505.9 633.9C505.4 632.9 503.3 630.3 502.8 627.8C502.4 625.4 503.2 620.6 503.3 619.2" fill="none" stroke="#2b2633" stroke-width="1.9" stroke-linecap="round"/>
<path d="M544.8 639C545.9 638.2 549.7 635.7 551.3 633.9C552.9 632 553.9 630.3 554.3 627.8C554.7 625.4 554 620.6 553.9 619.2" fill="none" stroke="#c83a18" stroke-width="1.9" stroke-linecap="round"/>
<path d="M551.3 633.9C551.8 632.9 553.9 630.3 554.3 627.8C554.7 625.4 554 620.6 553.9 619.2" fill="none" stroke="#4a3018" stroke-width="1.9" stroke-linecap="round"/>
<path d="M512.3 645.9C511.2 645.2 508.4 642.6 505.9 641.6C503.3 640.6 499.5 641 497.2 639.9C494.9 638.7 493.1 636.5 492.1 634.7C491.1 632.9 491.4 630.1 491.2 629.1" fill="none" stroke="#3a4aa8" stroke-width="1.9" stroke-linecap="round"/>
<path d="M505.9 641.6C504.4 641.3 499.5 641 497.2 639.9C494.9 638.7 493.1 636.5 492.1 634.7C491.1 632.9 491.4 630.1 491.2 629.1" fill="none" stroke="#2b2633" stroke-width="1.9" stroke-linecap="round"/>
<path d="M544.8 645.9C545.9 645.2 548.8 642.6 551.3 641.6C553.8 640.6 557.6 641 559.9 639.9C562.2 638.7 564.1 636.5 565.1 634.7C566.1 632.9 565.8 630.1 565.9 629.1" fill="none" stroke="#c83a18" stroke-width="1.9" stroke-linecap="round"/>
<path d="M551.3 641.6C552.7 641.3 557.6 641 559.9 639.9C562.2 638.7 564.1 636.5 565.1 634.7C566.1 632.9 565.8 630.1 565.9 629.1" fill="none" stroke="#4a3018" stroke-width="1.9" stroke-linecap="round"/>
<path d="M512.3 654.6C511.5 653.8 509.2 651.2 507.6 650.2C505.9 649.3 503.8 649 502.4 648.9C501 648.9 499.9 649.7 499.4 649.8" fill="none" stroke="#3a4aa8" stroke-width="1.9" stroke-linecap="round"/>
<path d="M507.6 650.2C506.7 650 503.8 649 502.4 648.9C501 648.9 499.9 649.7 499.4 649.8" fill="none" stroke="#2b2633" stroke-width="1.9" stroke-linecap="round"/>
<path d="M544.8 654.6C545.6 653.8 547.9 651.2 549.6 650.2C551.2 649.3 553.4 649 554.7 648.9C556.1 648.9 557.3 649.7 557.8 649.8" fill="none" stroke="#c83a18" stroke-width="1.9" stroke-linecap="round"/>
<path d="M549.6 650.2C550.4 650 553.4 649 554.7 648.9C556.1 648.9 557.3 649.7 557.8 649.8" fill="none" stroke="#4a3018" stroke-width="1.9" stroke-linecap="round"/></g>
<path d="M401.2 764.5C401.1 761.8 400.8 753.9 400.8 748.1C400.8 742.4 400.7 734.1 401.2 730C401.7 725.9 402.1 725 403.8 723.5C405.5 722 408.1 721.2 411.6 720.9C415 720.7 422.3 722 424.5 722.2L418.4 761.9Z" fill="#f3f4fa" opacity="0.8"/>
<path d="M470.2 767.1C470.2 763.9 470.6 754.3 470.6 748.1C470.6 741.9 470.7 734.1 470.2 730C469.7 725.9 469.5 725 467.6 723.5C465.7 722 461 721.2 459 720.9C457 720.7 456.1 722 455.5 722.2L457.2 760.2Z" fill="#fbd9b8" opacity="0.6"/>
<path d="M400.8 730.9V864" stroke="#2e3050" stroke-width="1.9" fill="none"/>
<path d="M470.6 730.9V843.3" stroke="#6a2416" stroke-width="1.9" fill="none"/>
<path d="M400.8 732.6C400.9 731.9 401.1 729.8 401.6 728.3C402.2 726.8 402.6 724.8 404.2 723.5C405.9 722.3 408.5 721.4 411.6 720.9C414.6 720.5 420.9 720.8 422.8 720.8" stroke="#2e3050" stroke-width="1.9" fill="none" stroke-linecap="round"/>
<path d="M470.6 732.6C470.5 731.9 470.3 729.8 469.7 728.3C469.2 726.8 469 724.8 467.2 723.5C465.4 722.3 460.6 721.4 459 720.9C457.3 720.5 457.5 721 457.2 721" stroke="#4a2a1a" stroke-width="1.9" fill="none" stroke-linecap="round"/>
<path d="M400.8 741.2C400.8 740.6 400.6 739.1 401.2 737.8C401.9 736.5 403.1 734.6 404.7 733.4C406.2 732.3 409.7 731.3 410.7 730.9" stroke="#4058c0" stroke-width="1.8" fill="none" stroke-linecap="round"/>
<path d="M407.2 731.7C408 731.6 410.1 731 411.6 730.9C413 730.8 415.1 731.1 415.9 731.1" stroke="#2b2633" stroke-width="1.8" fill="none" stroke-linecap="round"/>
<path d="M400.8 749C400.8 748.4 400.6 746.8 401.2 745.5C401.9 744.2 403.1 742.3 404.7 741.2C406.2 740.1 409.7 739.4 410.7 739.1" stroke="#4058c0" stroke-width="1.8" fill="none" stroke-linecap="round"/>
<path d="M407.2 739.9C408 739.8 410 739.2 411.6 739.1C413.1 739 415.9 739.3 416.7 739.3" stroke="#2b2633" stroke-width="1.8" fill="none" stroke-linecap="round"/>
<path d="M400.8 757.6C400.8 757 400.6 755.4 401.2 754.1C401.9 752.8 403.1 750.9 404.7 749.8C406.2 748.8 409.7 748 410.7 747.7" stroke="#4058c0" stroke-width="1.8" fill="none" stroke-linecap="round"/>
<path d="M407.2 748.5C408 748.4 410.1 747.8 411.6 747.7C413 747.6 415.1 747.9 415.9 747.9" stroke="#2b2633" stroke-width="1.8" fill="none" stroke-linecap="round"/>
<path d="M400.8 766.2C400.8 765.6 400.6 763.8 401.2 762.8C401.9 761.8 403.1 760.8 404.7 760.2C406.2 759.5 409.7 759.1 410.7 758.9" stroke="#4058c0" stroke-width="1.8" fill="none" stroke-linecap="round"/>
<path d="M407.2 759.7C408 759.6 410 759 411.6 758.9C413.1 758.8 415.9 759.1 416.7 759.1" stroke="#2b2633" stroke-width="1.8" fill="none" stroke-linecap="round"/>
<path d="M470.6 741.2C470.5 740.6 470.7 739.1 470.2 737.8C469.6 736.5 468.4 734.5 467.2 733.4C465.9 732.4 463.2 731.9 462.4 731.6" stroke="#d8381a" stroke-width="1.8" fill="none" stroke-linecap="round"/>
<path d="M465 732.8C464.4 732.5 462.7 731.6 461.6 731.3C460.4 731 458.7 730.9 458.1 730.9" stroke="#3a2418" stroke-width="1.8" fill="none" stroke-linecap="round"/>
<path d="M470.6 749.8C470.5 749.3 470.7 747.5 470.2 746.4C469.6 745.2 468.4 743.7 467.2 742.9C465.9 742.2 463.2 742.1 462.4 741.9" stroke="#d8381a" stroke-width="1.8" fill="none" stroke-linecap="round"/>
<path d="M465 743.1C464.4 742.9 462.7 742 461.6 741.6C460.4 741.3 458.7 741.3 458.1 741.2" stroke="#3a2418" stroke-width="1.8" fill="none" stroke-linecap="round"/>
<path d="M470.6 759.3C470.5 758.7 470.7 757 470.2 755.9C469.6 754.7 468.4 753.2 467.2 752.4C465.9 751.7 463.2 751.6 462.4 751.4" stroke="#d8381a" stroke-width="1.8" fill="none" stroke-linecap="round"/>
<path d="M465 752.6C464.4 752.3 462.7 751.4 461.6 751.1C460.4 750.8 458.7 750.8 458.1 750.7" stroke="#3a2418" stroke-width="1.8" fill="none" stroke-linecap="round"/>
<path d="M470.6 768.8C470.5 768.2 470.7 766.5 470.2 765.3C469.6 764.2 468.4 762.7 467.2 761.9C465.9 761.1 463.2 760.7 462.4 760.4" stroke="#d8381a" stroke-width="1.8" fill="none" stroke-linecap="round"/>
<path d="M465 761.6C464.4 761.4 462.7 760.5 461.6 760.2C460.4 759.9 458.7 759.8 458.1 759.7" stroke="#3a2418" stroke-width="1.8" fill="none" stroke-linecap="round"/>
<path d="M432.4 476C432.3 481.7 432 498.5 431.6 510C431.2 521.5 430.9 535.7 430.2 545C429.5 554.3 427.8 560.2 427.6 566C427.4 571.8 428 574.7 428.8 580C429.6 585.3 431.3 592 432.5 598C433.7 604 435.1 610 436 616C436.9 622 437.4 627.3 437.9 634C438.3 640.7 438.5 646.7 438.7 656C438.9 665.3 438.8 678.7 438.8 690C438.8 701.3 438.8 718.3 438.8 724" fill="none" stroke="#4a4446" stroke-width="9.4"/>
<path d="M432.4 476C432.3 481.7 432 498.5 431.6 510C431.2 521.5 430.9 535.7 430.2 545C429.5 554.3 427.8 560.2 427.6 566C427.4 571.8 428 574.7 428.8 580C429.6 585.3 431.3 592 432.5 598C433.7 604 435.1 610 436 616C436.9 622 437.4 627.3 437.9 634C438.3 640.7 438.5 646.7 438.7 656C438.9 665.3 438.8 678.7 438.8 690C438.8 701.3 438.8 718.3 438.8 724" fill="none" stroke="#fffdfb" stroke-width="7"/>
<rect x="424" y="470" width="18" height="7.6" fill="#fbd9c6"/>
<path d="M433.5 720.9C430.8 721.2 428.4 721.3 426.2 722.2C424 723.2 421.9 725.1 420.2 726.6C418.4 728 417.7 729.6 415.9 730.9C414.1 732.1 410.3 732.7 409.4 733.9C408.5 735 409.5 736.8 410.7 737.8C411.9 738.7 415.4 738.6 416.7 739.5C418 740.3 418.6 741.2 418.4 742.9C418.3 744.7 416.4 747.5 415.9 749.8C415.4 752.1 415 754.7 415.4 756.7C415.9 758.7 416.9 760.7 418.4 761.9C420 763.1 422.5 764.2 424.5 764.1C426.5 763.9 428.9 762.3 430.5 761C432.1 759.8 432.4 757 434 756.7C435.5 756.4 437.6 759.2 440 759.3C442.4 759.5 446 758.9 448.6 757.6C451.2 756.3 453.9 754 455.5 751.6C457.1 749.1 457.9 746.4 458.1 742.9C458.3 739.5 457.5 734 456.8 730.9C456.1 727.7 455.2 725.5 453.8 724C452.4 722.4 450.5 721.9 448.6 721.4C446.8 720.9 445.1 721 442.6 720.9C440.1 720.9 436.3 720.7 433.5 720.9Z" fill="#fffdfb" stroke="#4a4446" stroke-width="1.3"/>
<path d="M418.4 731.7C419.7 731.3 423.5 729.9 426.2 729.1C428.9 728.4 432 727.7 434.8 727.4C437.7 727.2 441 727.2 443.4 727.6C445.9 728 447.9 728 449.5 730C451.1 732 452.8 736.8 452.9 739.5C453.1 742.2 451.9 744.7 450.3 746.4C448.8 748.1 445.7 749.1 443.4 749.8C441.1 750.5 438.7 750.7 436.6 750.7C434.4 750.7 432.2 749.7 430.5 749.8C428.8 750 427.4 750.7 426.2 751.6C425 752.4 423.7 754.4 423.2 755" fill="none" stroke="#4a4446" stroke-width="1.2" stroke-linecap="round"/>
<path d="M416.7 739.5C418 738.8 422.3 736.2 424.5 735.2C426.6 734.1 427.4 733.4 429.7 733C432 732.6 436.8 732.7 438.3 732.6" fill="none" stroke="#4a4446" stroke-width="1.2" stroke-linecap="round"/>
<path d="M428.8 738.2C430.2 737.7 434.7 735.6 437.4 735.3C440.1 735.1 443.2 735.9 445.2 736.9C447.2 737.9 449.2 739.8 449.5 741.2C449.8 742.6 448.5 744.9 446.9 745.5C445.3 746.2 442.3 745.1 440 745.1C437.7 745.1 435.3 745 433.1 745.5C430.9 746 428.6 747 427.1 748.1C425.5 749.2 424.2 751.3 423.6 752" fill="none" stroke="#4a4446" stroke-width="1.2" stroke-linecap="round"/>
<path d="M434 756.7C433.5 756.1 432.4 754 431.4 753.3C430.4 752.6 428.5 752.6 427.9 752.4" fill="none" stroke="#4a4446" stroke-width="1.2" stroke-linecap="round"/>
<path d="M409.4 733.9C410.3 734.1 413.2 735.2 415 735.2C416.8 735.1 419.3 733.7 420.2 733.4" fill="none" stroke="#4a4446" stroke-width="1.2" stroke-linecap="round"/>
<path d="M438.8 700V721.5" stroke="#fffdfb" stroke-width="7" fill="none"/>
<path d="M268.5 611C268.9 612.5 269.9 616.2 271 620C272.1 623.8 273.7 629 275 634C276.3 639 278 644.3 279 650C280 655.7 280.8 663 281 668C281.2 673 279.5 676.3 280 680C280.5 683.7 283 685.7 284 690C285 694.3 285.3 700.3 286 706C286.7 711.7 287.6 717.5 288 724C288.4 730.5 288.4 737.3 288.5 745C288.6 752.7 288.2 763.2 288.5 770C288.8 776.8 288.8 781.5 290 786C291.2 790.5 293.3 794.2 296 797C298.7 799.8 304.3 802 306 803L306 803L316 803.5L327 798L334 790L335.5 780L330 768L324 748L318 728L313 708L308 685L303 660L298 640L295 622L296 609Z" fill="#fbd6d4" opacity="0.86"/>
<ellipse cx="250.5" cy="690.5" rx="14" ry="16" fill="#fdf3ee" transform="rotate(35 250.5 690.5)"/>
<path d="M264 668L276 660L282 682L270 686Z" fill="#fdf0ec" opacity="0.9"/>
<path d="M243 684l3.4 -1.6" stroke="#9ab08a" stroke-width="1.2" stroke-linecap="round"/>
<path d="M250 680l3.4 -1.6" stroke="#9ab08a" stroke-width="1.2" stroke-linecap="round"/>
<path d="M256 685l3.4 -1.6" stroke="#9ab08a" stroke-width="1.2" stroke-linecap="round"/>
<path d="M241 692l3.4 -1.6" stroke="#9ab08a" stroke-width="1.2" stroke-linecap="round"/>
<path d="M248 690l3.4 -1.6" stroke="#9ab08a" stroke-width="1.2" stroke-linecap="round"/>
<path d="M254 694l3.4 -1.6" stroke="#9ab08a" stroke-width="1.2" stroke-linecap="round"/>
<path d="M245 699l3.4 -1.6" stroke="#9ab08a" stroke-width="1.2" stroke-linecap="round"/>
<path d="M252 702l3.4 -1.6" stroke="#9ab08a" stroke-width="1.2" stroke-linecap="round"/>
<path d="M258 691l3.4 -1.6" stroke="#9ab08a" stroke-width="1.2" stroke-linecap="round"/>
<path d="M103.5 598.3C105.9 598.2 114 597.8 118 597.6C122 597.4 124.4 597.3 127.6 597.2C130.8 597.1 133.9 596.7 137.2 597C140.5 597.3 144.3 598.2 147.6 599C150.9 599.8 154 600.7 157.2 601.7C160.4 602.7 163.7 604.1 166.9 605.2C170.1 606.4 173.3 607.5 176.5 608.6C179.7 609.7 183 610.9 186.2 612C189.4 613.1 192.7 614.6 195.9 615.5C199.1 616.4 202.3 616.9 205.5 617.6C208.7 618.3 211.9 619.3 215.2 619.7C218.5 620.1 223.8 620 225.5 620" fill="none" stroke="#9a3f60" stroke-width="5.6" stroke-dasharray="5.4 4.2"/>
<path d="M103.5 598.3C105.9 598.2 114 597.8 118 597.6C122 597.4 124.4 597.3 127.6 597.2C130.8 597.1 133.9 596.7 137.2 597C140.5 597.3 144.3 598.2 147.6 599C150.9 599.8 154 600.7 157.2 601.7C160.4 602.7 163.7 604.1 166.9 605.2C170.1 606.4 173.3 607.5 176.5 608.6C179.7 609.7 183 610.9 186.2 612C189.4 613.1 192.7 614.6 195.9 615.5C199.1 616.4 202.3 616.9 205.5 617.6C208.7 618.3 211.9 619.3 215.2 619.7C218.5 620.1 223.8 620 225.5 620" fill="none" stroke="#f9cdd6" stroke-width="3" stroke-dasharray="2.8 6.8" stroke-dashoffset="-1.3"/>
<path d="M352.4 595.9C353.7 596.2 357.4 597.2 360 598C362.6 598.8 364.3 599.8 368 600.7C371.7 601.6 377.3 602 382 603.4C386.7 604.8 391.4 607.3 396 609C400.6 610.7 404.9 612.3 409.5 613.8C414.1 615.3 419.5 617 423.4 617.8C427.3 618.6 429.8 618.5 433 618.6C436.2 618.7 438.6 618.7 442.8 618.6C447 618.5 453 618.2 458 617.8C463 617.4 469.1 616.7 473 616C476.9 615.3 478.7 614.4 481.5 613.4C484.3 612.4 486.9 611.1 489.7 610C492.4 608.9 495.3 607.7 498 606.6C500.7 605.5 503.5 604.3 506 603.4C508.5 602.5 510.7 601.7 513 601C515.3 600.3 517.7 599.6 520 599C522.3 598.4 524.7 598 527 597.6C529.3 597.2 530.5 597 533.8 596.6C537.1 596.2 542.4 595.8 547 595.5C551.6 595.2 557.1 594.9 561.4 595C565.6 595.1 570.6 595.8 572.5 596" fill="none" stroke="#9a3f60" stroke-width="5.6" stroke-dasharray="5.4 4.2"/>
<path d="M352.4 595.9C353.7 596.2 357.4 597.2 360 598C362.6 598.8 364.3 599.8 368 600.7C371.7 601.6 377.3 602 382 603.4C386.7 604.8 391.4 607.3 396 609C400.6 610.7 404.9 612.3 409.5 613.8C414.1 615.3 419.5 617 423.4 617.8C427.3 618.6 429.8 618.5 433 618.6C436.2 618.7 438.6 618.7 442.8 618.6C447 618.5 453 618.2 458 617.8C463 617.4 469.1 616.7 473 616C476.9 615.3 478.7 614.4 481.5 613.4C484.3 612.4 486.9 611.1 489.7 610C492.4 608.9 495.3 607.7 498 606.6C500.7 605.5 503.5 604.3 506 603.4C508.5 602.5 510.7 601.7 513 601C515.3 600.3 517.7 599.6 520 599C522.3 598.4 524.7 598 527 597.6C529.3 597.2 530.5 597 533.8 596.6C537.1 596.2 542.4 595.8 547 595.5C551.6 595.2 557.1 594.9 561.4 595C565.6 595.1 570.6 595.8 572.5 596" fill="none" stroke="#f9cdd6" stroke-width="3" stroke-dasharray="2.8 6.8" stroke-dashoffset="-1.3"/>
<path d="M225.5 620C227.1 619.9 231.8 619.9 235 619.6C238.2 619.4 241.7 618.8 245 618.5C248.3 618.2 251.8 617.6 255 618C258.2 618.4 261.7 618.9 264 620.7C266.3 622.5 267.5 625.9 269 629C270.5 632.1 272 635.8 273 639.3C274 642.8 274.7 646.2 275 649.7C275.3 653.2 276 657.2 275 660C274 662.8 271.2 664.6 269 666.2C266.8 667.8 264 668.6 261.5 669.7C259 670.8 256.4 672 253.8 673C251.2 674 248.4 674.6 246 676C243.6 677.4 241.2 679.2 239.3 681.4C237.4 683.6 235.4 686.4 234.5 689C233.6 691.6 233.4 694.4 233.8 697C234.2 699.6 235.5 702.7 237.2 704.8C238.9 706.9 241.5 708.9 244 709.7C246.5 710.5 249.7 710.5 252.4 709.7C255.1 708.9 258.1 706.8 260 704.8C261.9 702.8 262.8 700.4 264 698C265.2 695.6 265.9 692.8 267 690.3C268.1 687.8 268.6 684.3 270.3 682.8C272 681.3 275 680.8 277.2 681.4C279.4 682 282.2 684 283.4 686.2C284.6 688.4 284 691.5 284.5 694.5C285 697.5 285.7 700.8 286.2 704C286.7 707.2 287 710.3 287.6 713.8C288.2 717.3 289.2 721.3 289.7 724.8C290.2 728.3 290.3 731.6 290.6 735C290.9 738.4 291.2 741.7 291.4 745C291.6 748.3 291.9 751.7 292 755C292.1 758.3 292.2 761.7 292.3 765C292.4 768.3 292.1 771.7 292.4 775C292.6 778.3 292.9 781.7 293.8 784.8C294.7 787.9 296.1 791.4 298 793.8C299.9 796.2 304.2 798.4 305.5 799.3" fill="none" stroke="#fdeee8" stroke-width="11" stroke-linecap="round" opacity="0.92"/>
<path d="M225.5 620C227.1 619.9 231.8 619.9 235 619.6C238.2 619.4 241.7 618.8 245 618.5C248.3 618.2 251.8 617.6 255 618C258.2 618.4 261.7 618.9 264 620.7C266.3 622.5 267.5 625.9 269 629C270.5 632.1 272 635.8 273 639.3C274 642.8 274.7 646.2 275 649.7C275.3 653.2 276 657.2 275 660C274 662.8 271.2 664.6 269 666.2C266.8 667.8 264 668.6 261.5 669.7C259 670.8 256.4 672 253.8 673C251.2 674 248.4 674.6 246 676C243.6 677.4 241.2 679.2 239.3 681.4C237.4 683.6 235.4 686.4 234.5 689C233.6 691.6 233.4 694.4 233.8 697C234.2 699.6 235.5 702.7 237.2 704.8C238.9 706.9 241.5 708.9 244 709.7C246.5 710.5 249.7 710.5 252.4 709.7C255.1 708.9 258.1 706.8 260 704.8C261.9 702.8 262.8 700.4 264 698C265.2 695.6 265.9 692.8 267 690.3C268.1 687.8 268.6 684.3 270.3 682.8C272 681.3 275 680.8 277.2 681.4C279.4 682 282.2 684 283.4 686.2C284.6 688.4 284 691.5 284.5 694.5C285 697.5 285.7 700.8 286.2 704C286.7 707.2 287 710.3 287.6 713.8C288.2 717.3 289.2 721.3 289.7 724.8C290.2 728.3 290.3 731.6 290.6 735C290.9 738.4 291.2 741.7 291.4 745C291.6 748.3 291.9 751.7 292 755C292.1 758.3 292.2 761.7 292.3 765C292.4 768.3 292.1 771.7 292.4 775C292.6 778.3 292.9 781.7 293.8 784.8C294.7 787.9 296.1 791.4 298 793.8C299.9 796.2 304.2 798.4 305.5 799.3" fill="none" stroke="#9a3f60" stroke-width="5.6" stroke-dasharray="5.4 4.2"/>
<path d="M225.5 620C227.1 619.9 231.8 619.9 235 619.6C238.2 619.4 241.7 618.8 245 618.5C248.3 618.2 251.8 617.6 255 618C258.2 618.4 261.7 618.9 264 620.7C266.3 622.5 267.5 625.9 269 629C270.5 632.1 272 635.8 273 639.3C274 642.8 274.7 646.2 275 649.7C275.3 653.2 276 657.2 275 660C274 662.8 271.2 664.6 269 666.2C266.8 667.8 264 668.6 261.5 669.7C259 670.8 256.4 672 253.8 673C251.2 674 248.4 674.6 246 676C243.6 677.4 241.2 679.2 239.3 681.4C237.4 683.6 235.4 686.4 234.5 689C233.6 691.6 233.4 694.4 233.8 697C234.2 699.6 235.5 702.7 237.2 704.8C238.9 706.9 241.5 708.9 244 709.7C246.5 710.5 249.7 710.5 252.4 709.7C255.1 708.9 258.1 706.8 260 704.8C261.9 702.8 262.8 700.4 264 698C265.2 695.6 265.9 692.8 267 690.3C268.1 687.8 268.6 684.3 270.3 682.8C272 681.3 275 680.8 277.2 681.4C279.4 682 282.2 684 283.4 686.2C284.6 688.4 284 691.5 284.5 694.5C285 697.5 285.7 700.8 286.2 704C286.7 707.2 287 710.3 287.6 713.8C288.2 717.3 289.2 721.3 289.7 724.8C290.2 728.3 290.3 731.6 290.6 735C290.9 738.4 291.2 741.7 291.4 745C291.6 748.3 291.9 751.7 292 755C292.1 758.3 292.2 761.7 292.3 765C292.4 768.3 292.1 771.7 292.4 775C292.6 778.3 292.9 781.7 293.8 784.8C294.7 787.9 296.1 791.4 298 793.8C299.9 796.2 304.2 798.4 305.5 799.3" fill="none" stroke="#f9cdd6" stroke-width="3" stroke-dasharray="2.8 6.8" stroke-dashoffset="-1.3"/>
<path d="M352.4 595.9C350.6 595.7 344.8 594.7 341.4 594.5C337.9 594.3 334.9 594.3 331.7 594.5C328.5 594.7 325.2 595.2 322 595.9C318.8 596.6 315.6 597.6 312.4 598.6C309.2 599.6 305.7 600.3 302.8 602C299.9 603.7 296.5 607.8 295.2 609" fill="none" stroke="#9a3f60" stroke-width="5.6" stroke-dasharray="5.4 4.2"/>
<path d="M352.4 595.9C350.6 595.7 344.8 594.7 341.4 594.5C337.9 594.3 334.9 594.3 331.7 594.5C328.5 594.7 325.2 595.2 322 595.9C318.8 596.6 315.6 597.6 312.4 598.6C309.2 599.6 305.7 600.3 302.8 602C299.9 603.7 296.5 607.8 295.2 609" fill="none" stroke="#f9cdd6" stroke-width="3" stroke-dasharray="2.8 6.8" stroke-dashoffset="-1.3"/>
<path d="M295.2 609C294.6 610.7 292 615.8 291.7 619.3C291.4 622.8 292.4 626.7 293.1 630.3C293.8 633.9 294.9 637.4 295.9 640.7C296.9 644 298.3 647.1 299.3 650.3C300.3 653.5 301.2 656.8 302 660C302.8 663.2 303.3 666.5 304 669.7C304.7 672.9 305.5 676 306.2 679.3C306.9 682.6 307.6 686.2 308.3 689.7C309 693.2 309.6 696.7 310.3 700C311 703.3 311.7 706.5 312.4 709.7C313.1 712.9 313.7 716 314.5 719.3C315.3 722.6 316.3 726.4 317.2 729.7C318.1 733 319.1 736.1 320 739.3C320.9 742.5 321.8 745.8 322.8 749C323.8 752.2 325.2 755.4 326.2 758.6C327.2 761.8 328.1 765.1 329 768.3C329.9 771.5 331.4 774.8 331.7 778C332 781.2 332 784.8 331 787.6C330 790.4 328 792.9 325.5 795C323 797.1 319.2 799.3 315.9 800C312.6 800.7 307.2 799.4 305.5 799.3" fill="none" stroke="#f9c4c4" stroke-width="9.5" stroke-linecap="round" opacity="0.92"/>
<path d="M295.2 609C294.6 610.7 292 615.8 291.7 619.3C291.4 622.8 292.4 626.7 293.1 630.3C293.8 633.9 294.9 637.4 295.9 640.7C296.9 644 298.3 647.1 299.3 650.3C300.3 653.5 301.2 656.8 302 660C302.8 663.2 303.3 666.5 304 669.7C304.7 672.9 305.5 676 306.2 679.3C306.9 682.6 307.6 686.2 308.3 689.7C309 693.2 309.6 696.7 310.3 700C311 703.3 311.7 706.5 312.4 709.7C313.1 712.9 313.7 716 314.5 719.3C315.3 722.6 316.3 726.4 317.2 729.7C318.1 733 319.1 736.1 320 739.3C320.9 742.5 321.8 745.8 322.8 749C323.8 752.2 325.2 755.4 326.2 758.6C327.2 761.8 328.1 765.1 329 768.3C329.9 771.5 331.4 774.8 331.7 778C332 781.2 332 784.8 331 787.6C330 790.4 328 792.9 325.5 795C323 797.1 319.2 799.3 315.9 800C312.6 800.7 307.2 799.4 305.5 799.3" fill="none" stroke="#9a3f60" stroke-width="5.6" stroke-dasharray="5.4 4.2"/>
<path d="M295.2 609C294.6 610.7 292 615.8 291.7 619.3C291.4 622.8 292.4 626.7 293.1 630.3C293.8 633.9 294.9 637.4 295.9 640.7C296.9 644 298.3 647.1 299.3 650.3C300.3 653.5 301.2 656.8 302 660C302.8 663.2 303.3 666.5 304 669.7C304.7 672.9 305.5 676 306.2 679.3C306.9 682.6 307.6 686.2 308.3 689.7C309 693.2 309.6 696.7 310.3 700C311 703.3 311.7 706.5 312.4 709.7C313.1 712.9 313.7 716 314.5 719.3C315.3 722.6 316.3 726.4 317.2 729.7C318.1 733 319.1 736.1 320 739.3C320.9 742.5 321.8 745.8 322.8 749C323.8 752.2 325.2 755.4 326.2 758.6C327.2 761.8 328.1 765.1 329 768.3C329.9 771.5 331.4 774.8 331.7 778C332 781.2 332 784.8 331 787.6C330 790.4 328 792.9 325.5 795C323 797.1 319.2 799.3 315.9 800C312.6 800.7 307.2 799.4 305.5 799.3" fill="none" stroke="#f9cdd6" stroke-width="3" stroke-dasharray="2.8 6.8" stroke-dashoffset="-1.3"/>
<linearGradient id="gHairV" x1="0" y1="400" x2="0" y2="790" gradientUnits="userSpaceOnUse"><stop offset="0" stop-color="#141014"/><stop offset="0.42" stop-color="#1c141c"/><stop offset="0.62" stop-color="#3d2438"/><stop offset="1" stop-color="#5e3f5c"/></linearGradient>
<path d="M199.1 401.2C200.8 405.4 206 418 209.6 426.5C213.1 435 215.9 441.9 220.2 452C224.4 462.1 230.1 475.3 234.9 487C239.7 498.7 244.6 511 249 522.4C253.4 533.8 257.4 544.5 261.1 555.5C264.8 566.5 268.1 577.2 271.2 588.6C274.2 600 276.8 611.2 279.3 623.8C281.9 636.4 283.8 650.5 286.2 664C288.7 677.5 292.2 695.7 293.9 705C295.6 714.3 295.6 714.2 296.5 720C297.4 725.8 298.7 733.3 299.5 740C300.3 746.7 301.1 755 301.4 760C301.7 765 301.3 767 301.4 770C301.5 773 301.6 775.6 302 778C302.4 780.4 303.1 782.7 304 784.5C304.9 786.3 306.3 787.8 307.5 788.8C308.7 789.8 310.1 790.2 311 790.2C311.9 790.2 312.3 789.3 312.8 788.5C313.3 787.7 313.7 786.1 313.9 785.6L313.9 785.6C314.1 786 314.4 787.6 315 788.2C315.6 788.8 316.5 789.3 317.5 789.2C318.5 789.1 320 788.5 321 787.4C322 786.3 323.1 784.4 323.6 782.5C324.2 780.6 324.5 778.4 324.3 776C324.1 773.6 323.3 770.7 322.5 768C321.7 765.3 320.9 764.7 319.5 760C318.1 755.3 315.9 746.7 314 740C312.1 733.3 309.8 725.8 308.3 720C306.8 714.2 307.2 714.3 305.1 705C303 695.7 298.8 677.5 295.8 664C292.7 650.5 290.1 636.4 287.1 623.8C284 611.2 280.9 600 277.4 588.6C273.9 577.2 270 566.5 265.9 555.5C261.9 544.5 257.6 533.8 253 522.4C248.4 511 243.2 498.7 238.1 487C233 475.3 227.1 462.1 222.7 452C218.2 441.9 215.2 435 211.4 426.5C207.7 418 202.2 405.4 200.3 401.2Z" fill="url(#gHairV)"/>
<path d="M275.4 588.6C276.9 594.5 281.7 611.2 284.6 623.8C287.5 636.4 289.9 650.5 292.7 664C295.5 677.5 299.5 695.7 301.5 705C303.5 714.3 304 717.5 304.5 720" fill="none" stroke="#7a4a68" stroke-width="1.6" opacity="0.5"/>
<path d="M310.8 798C312.3 794 313.2 790 313.9 785.8C314.8 790 316 794 318.2 798.5Z" fill="#f3a4b4"/>
<path d="M272.9 820.3C272.9 816.8 272.6 804.1 272.9 798.8C273.2 793.5 273.2 791.5 274.7 788.4C276.1 785.4 279.3 780.3 281.6 780.3C283.9 780.3 286.3 784.9 288.4 788.4C290.6 792 291.8 798.6 294.5 801.4C297.2 804.1 304.8 803.9 304.8 804.8C304.8 805.8 298.6 806.1 294.5 807C290.3 807.8 282.3 809.5 279.8 810Z" fill="#fdf4f0" opacity="0.7"/>
<path d="M351.4 820.3C351.4 816.8 351.7 804.1 351.4 798.8C351.1 793.5 351.1 791.7 349.7 788.4C348.2 785.2 344.9 779.4 342.8 779.4C340.6 779.4 338.6 784.8 336.7 788.4C334.9 792.1 333.4 798.8 331.6 801.4C329.7 804 325.2 803 325.5 804C325.8 804.9 330.1 805.8 333.3 807C336.4 808.1 342.6 810.2 344.5 810.9Z" fill="#f9c0b4" opacity="0.55"/>
<linearGradient id="gFb" x1="0" y1="780" x2="0" y2="836" gradientUnits="userSpaceOnUse"><stop offset="0" stop-color="#2b2a3a"/><stop offset="0.45" stop-color="#4a55b8"/><stop offset="1" stop-color="#3a3a70"/></linearGradient>
<linearGradient id="gFr" x1="0" y1="780" x2="0" y2="840" gradientUnits="userSpaceOnUse"><stop offset="0" stop-color="#4a3a18"/><stop offset="0.45" stop-color="#d83a20"/><stop offset="1" stop-color="#c03a20"/></linearGradient>
<path d="M272.9 836.7C272.9 834 272.9 826.7 272.9 820.3C272.9 814 272.6 804.1 272.9 798.8C273.2 793.5 273.2 791.5 274.7 788.4C276.1 785.4 280.4 781.6 281.6 780.3" stroke="url(#gFb)" stroke-width="1.9" fill="none" stroke-linecap="round"/>
<path d="M351.4 840.2C351.4 836.9 351.4 827.2 351.4 820.3C351.4 813.4 351.7 804.1 351.4 798.8C351.1 793.5 351.1 791.7 349.7 788.4C348.2 785.2 343.9 780.9 342.8 779.4" stroke="url(#gFr)" stroke-width="1.9" fill="none" stroke-linecap="round"/>
<path d="M273.4 806.6C273.9 804.5 274.6 797.4 276.4 794.5C278.2 791.6 282.8 790.2 284.1 789.3" stroke="url(#gFb)" stroke-width="1.8" fill="none" stroke-linecap="round"/>
<path d="M279.6 792.2C280.3 791.8 283.4 789.8 284.1 789.3" stroke="#2b2a3a" stroke-width="1.8" fill="none" stroke-linecap="round"/>
<path d="M350.9 806.6C350.4 804.5 349.7 797.4 347.9 794.5C346.1 791.6 341.5 790.2 340.2 789.3" stroke="url(#gFr)" stroke-width="1.8" fill="none" stroke-linecap="round"/>
<path d="M344.7 792.2C344 791.8 340.9 789.8 340.2 789.3" stroke="#4a3a18" stroke-width="1.8" fill="none" stroke-linecap="round"/>
<path d="M273.8 813.4C274.5 811.6 275.5 804.9 278.1 802.2C280.7 799.6 287.4 798.3 289.3 797.5" stroke="url(#gFb)" stroke-width="1.8" fill="none" stroke-linecap="round"/>
<path d="M283 800.2C284.1 799.8 288.3 798 289.3 797.5" stroke="#2b2a3a" stroke-width="1.8" fill="none" stroke-linecap="round"/>
<path d="M350.5 813.4C349.8 811.6 348.8 804.9 346.2 802.2C343.6 799.6 336.9 798.3 335 797.5" stroke="url(#gFr)" stroke-width="1.8" fill="none" stroke-linecap="round"/>
<path d="M341.3 800.2C340.2 799.8 336 798 335 797.5" stroke="#4a3a18" stroke-width="1.8" fill="none" stroke-linecap="round"/>
<path d="M273.8 822.1C274.8 820.1 276.4 812.5 279.8 810C283.3 807.5 290.3 807.8 294.5 807C298.6 806.1 302.1 805.9 304.8 804.8C307.6 803.8 309.4 802.2 310.9 800.5C312.3 798.8 312.9 796.3 313.4 794.5C314 792.7 313.8 790.5 313.9 789.7" stroke="#3a3560" stroke-width="1.8" fill="none" stroke-linecap="round"/>
<path d="M350.5 822.1C349.5 820.2 347.4 813.4 344.5 810.9C341.6 808.3 336.4 808.1 333.3 807C330.1 805.8 327.8 805.5 325.5 804C323.2 802.5 321.1 799.8 319.5 797.9C317.9 796.1 316.9 794.1 316 792.8C315.2 791.4 314.7 790.2 314.5 789.7" stroke="#5a3a1c" stroke-width="1.8" fill="none" stroke-linecap="round"/>
<path d="M166 495L207 495L203 530L199.3 558L218.6 576L187.6 682.8L155 576L171.7 558L168.5 530Z" fill="url(#gA1)"/>
<path d="M465 495L507 495L502.5 540L500.7 562L518.6 577L485.8 681.5L453.8 576L467.6 562L470 540Z" fill="url(#gA1)"/>
<path d="M169.6 715L211 715L202.6 790L219.2 800.6L186.1 880.6L153 800.6L169.6 790Z" fill="url(#gA2)"/>
<path d="M471 715L517 715L508 754L502.4 792L518.8 801L486.9 881.2L455 801L471.4 792Z" fill="url(#gA2)"/>
<clipPath id="cArrU"><path d="M166 495L207 495L203 530L199.3 558L218.6 576L187.6 682.8L155 576L171.7 558L168.5 530ZM465 495L507 495L502.5 540L500.7 562L518.6 577L485.8 681.5L453.8 576L467.6 562L470 540Z"/></clipPath>
<g clip-path="url(#cArrU)" opacity="0.4">

<path d="M162.2 653.3C162.3 655.7 162.7 662.9 163 667.9C163.3 672.9 163.7 680.8 163.9 683.4" fill="none" stroke="#fdf3ee" stroke-width="12" opacity="0.28" stroke-linecap="round"/>
<path d="M170.8 644.2C169.6 644.6 165.8 645.1 163.9 646.4C162 647.6 160.6 649.2 159.6 651.5C158.5 653.8 158 657.7 157.7 660.1C157.4 662.6 157.7 663.5 157.7 666.2C157.7 668.9 157.6 672.9 157.5 676.5C157.5 680.1 157.4 684.6 157.4 687.7C157.4 690.9 157.2 692.6 157.4 695.5C157.6 698.4 157.9 701.8 158.7 705C159.5 708.1 160.9 711.2 162.2 714.5C163.5 717.8 165.6 721.9 166.5 724.8C167.4 727.7 167.3 730.6 167.5 731.7V844.8" fill="none" stroke="url(#gVbL)" stroke-width="2" stroke-linecap="round"/>
<path d="M176.4 644.2C177.5 644.6 181.4 645.1 183.3 646.4C185.2 647.6 186.8 649.2 187.9 651.5C188.9 653.8 189.4 657.7 189.8 660.1C190.1 662.6 189.9 663.5 189.9 666.2C190 668.9 189.9 672.9 189.9 676.5C189.9 680.1 189.9 684.6 189.9 687.7C189.9 690.9 190 692.6 189.9 695.5C189.8 698.4 190.1 701.8 189.3 705C188.6 708.1 186.8 711.2 185.4 714.5C184.1 717.8 182 721.9 181.1 724.8C180.3 727.7 180.4 730.6 180.3 731.7V862.3" fill="none" stroke="url(#gVrL)" stroke-width="2" stroke-linecap="round"/>
<path d="M157.9 667.9C158.3 666.6 159.3 662.2 160.4 660.1C161.6 658.1 163.1 656.8 164.8 655.8C166.4 654.8 169.4 654.4 170.4 654.1" fill="none" stroke="url(#gVbL)" stroke-width="1.9" stroke-linecap="round"/>
<path d="M164.8 655.8C165.7 655.6 169.4 654.4 170.4 654.1" fill="none" stroke="#2b2633" stroke-width="1.9" stroke-linecap="round"/>
<path d="M189.5 667.9C189.1 666.6 188.1 662.2 186.9 660.1C185.8 658.1 184.3 656.8 182.6 655.8C180.9 654.8 177.9 654.4 177 654.1" fill="none" stroke="url(#gVrL)" stroke-width="1.9" stroke-linecap="round"/>
<path d="M182.6 655.8C181.7 655.6 177.9 654.4 177 654.1" fill="none" stroke="#4a3018" stroke-width="1.9" stroke-linecap="round"/>
<path d="M157.9 676.5C158.3 675.2 159.3 670.7 160.4 668.8C161.6 666.8 163.1 665.8 164.8 664.9C166.4 664 169.4 663.8 170.4 663.6" fill="none" stroke="url(#gVbL)" stroke-width="1.9" stroke-linecap="round"/>
<path d="M164.8 664.9C165.7 664.7 169.4 663.8 170.4 663.6" fill="none" stroke="#2b2633" stroke-width="1.9" stroke-linecap="round"/>
<path d="M189.5 676.5C189.1 675.2 188.1 670.7 186.9 668.8C185.8 666.8 184.3 665.8 182.6 664.9C180.9 664 177.9 663.8 177 663.6" fill="none" stroke="url(#gVrL)" stroke-width="1.9" stroke-linecap="round"/>
<path d="M182.6 664.9C181.7 664.7 177.9 663.8 177 663.6" fill="none" stroke="#4a3018" stroke-width="1.9" stroke-linecap="round"/>
<path d="M157.9 684.3C158.4 683.2 159.7 679.5 160.9 677.8C162.1 676.2 163.5 675.2 165.2 674.4C166.8 673.6 169.9 673.2 170.8 672.9" fill="none" stroke="url(#gVbL)" stroke-width="1.9" stroke-linecap="round"/>
<path d="M165.2 674.4C166.1 674.1 169.9 673.2 170.8 672.9" fill="none" stroke="#2b2633" stroke-width="1.9" stroke-linecap="round"/>
<path d="M189.5 684.3C189 683.2 187.7 679.5 186.5 677.8C185.3 676.2 183.8 675.2 182.2 674.4C180.5 673.6 177.5 673.2 176.6 672.9" fill="none" stroke="url(#gVrL)" stroke-width="1.9" stroke-linecap="round"/>
<path d="M182.2 674.4C181.2 674.1 177.5 673.2 176.6 672.9" fill="none" stroke="#4a3018" stroke-width="1.9" stroke-linecap="round"/>
<path d="M158.3 692C158.8 691.2 160.1 688.3 161.3 686.9C162.5 685.4 164 684.2 165.6 683.4C167.2 682.6 169.9 682.3 170.8 682.1" fill="none" stroke="url(#gVbL)" stroke-width="1.9" stroke-linecap="round"/>
<path d="M165.6 683.4C166.5 683.2 169.9 682.3 170.8 682.1" fill="none" stroke="#2b2633" stroke-width="1.9" stroke-linecap="round"/>
<path d="M189.1 692C188.6 691.2 187.3 688.3 186 686.9C184.8 685.4 183.3 684.2 181.7 683.4C180.2 682.6 177.4 682.3 176.6 682.1" fill="none" stroke="url(#gVrL)" stroke-width="1.9" stroke-linecap="round"/>
<path d="M181.7 683.4C180.9 683.2 177.4 682.3 176.6 682.1" fill="none" stroke="#4a3018" stroke-width="1.9" stroke-linecap="round"/>
<path d="M170.8 644.2C169.6 644.6 165.8 645.1 163.9 646.4C162 647.6 160.3 650.7 159.6 651.5" fill="none" stroke="#2b2633" stroke-width="1.9" stroke-linecap="round"/>
<path d="M176.4 644.2C177.5 644.6 181.4 645.1 183.3 646.4C185.2 647.6 187.1 650.7 187.9 651.5" fill="none" stroke="#4a3018" stroke-width="1.9" stroke-linecap="round"/>
<path d="M157.4 662.7C156.3 661.9 152.5 659.4 151 657.6C149.4 655.7 148.4 654 147.9 651.5C147.5 649.1 148.3 644.3 148.4 642.9" fill="none" stroke="#3a4aa8" stroke-width="1.9" stroke-linecap="round"/>
<path d="M151 657.6C150.5 656.6 148.4 654 147.9 651.5C147.5 649.1 148.3 644.3 148.4 642.9" fill="none" stroke="#2b2633" stroke-width="1.9" stroke-linecap="round"/>
<path d="M189.9 662.7C191 661.9 194.8 659.4 196.4 657.6C198 655.7 199 654 199.4 651.5C199.8 649.1 199.1 644.3 199 642.9" fill="none" stroke="#c83a18" stroke-width="1.9" stroke-linecap="round"/>
<path d="M196.4 657.6C196.9 656.6 199 654 199.4 651.5C199.8 649.1 199.1 644.3 199 642.9" fill="none" stroke="#4a3018" stroke-width="1.9" stroke-linecap="round"/>
<path d="M157.4 669.6C156.3 668.9 153.5 666.3 151 665.3C148.4 664.3 144.6 664.7 142.3 663.6C140 662.4 138.2 660.2 137.2 658.4C136.2 656.6 136.5 653.8 136.3 652.8" fill="none" stroke="#3a4aa8" stroke-width="1.9" stroke-linecap="round"/>
<path d="M151 665.3C149.5 665 144.6 664.7 142.3 663.6C140 662.4 138.2 660.2 137.2 658.4C136.2 656.6 136.5 653.8 136.3 652.8" fill="none" stroke="#2b2633" stroke-width="1.9" stroke-linecap="round"/>
<path d="M189.9 669.6C191 668.9 193.9 666.3 196.4 665.3C198.9 664.3 202.7 664.7 205 663.6C207.3 662.4 209.2 660.2 210.2 658.4C211.2 656.6 210.9 653.8 211 652.8" fill="none" stroke="#c83a18" stroke-width="1.9" stroke-linecap="round"/>
<path d="M196.4 665.3C197.8 665 202.7 664.7 205 663.6C207.3 662.4 209.2 660.2 210.2 658.4C211.2 656.6 210.9 653.8 211 652.8" fill="none" stroke="#4a3018" stroke-width="1.9" stroke-linecap="round"/>
<path d="M157.4 678.3C156.6 677.5 154.3 674.9 152.7 673.9C151 673 148.9 672.7 147.5 672.6C146.1 672.6 145 673.4 144.5 673.5" fill="none" stroke="#3a4aa8" stroke-width="1.9" stroke-linecap="round"/>
<path d="M152.7 673.9C151.8 673.7 148.9 672.7 147.5 672.6C146.1 672.6 145 673.4 144.5 673.5" fill="none" stroke="#2b2633" stroke-width="1.9" stroke-linecap="round"/>
<path d="M189.9 678.3C190.7 677.5 193 674.9 194.7 673.9C196.3 673 198.5 672.7 199.8 672.6C201.2 672.6 202.4 673.4 202.9 673.5" fill="none" stroke="#c83a18" stroke-width="1.9" stroke-linecap="round"/>
<path d="M194.7 673.9C195.5 673.7 198.5 672.7 199.8 672.6C201.2 672.6 202.4 673.4 202.9 673.5" fill="none" stroke="#4a3018" stroke-width="1.9" stroke-linecap="round"/>

<path d="M517.1 629.6C517.2 632 517.6 639.2 517.9 644.2C518.2 649.2 518.6 657.1 518.8 659.7" fill="none" stroke="#fdf3ee" stroke-width="12" opacity="0.28" stroke-linecap="round"/>
<path d="M525.7 620.5C524.5 620.9 520.7 621.4 518.8 622.7C516.9 623.9 515.5 625.5 514.5 627.8C513.4 630.1 512.9 634 512.6 636.4C512.3 638.9 512.6 639.8 512.6 642.5C512.6 645.2 512.5 649.2 512.4 652.8C512.4 656.4 512.3 660.9 512.3 664C512.3 667.2 512.1 668.9 512.3 671.8C512.5 674.7 512.8 678.1 513.6 681.3C514.4 684.4 515.8 687.5 517.1 690.8C518.4 694.1 520.5 698.2 521.4 701.1C522.3 704 522.2 706.9 522.4 708V843.9" fill="none" stroke="url(#gVbR)" stroke-width="2" stroke-linecap="round"/>
<path d="M531.3 620.5C532.4 620.9 536.3 621.4 538.2 622.7C540.1 623.9 541.7 625.5 542.8 627.8C543.8 630.1 544.3 634 544.7 636.4C545 638.9 544.8 639.8 544.8 642.5C544.9 645.2 544.8 649.2 544.8 652.8C544.8 656.4 544.8 660.9 544.8 664C544.8 667.2 544.9 668.9 544.8 671.8C544.7 674.7 545 678.1 544.2 681.3C543.5 684.4 541.7 687.5 540.3 690.8C539 694.1 536.9 698.2 536 701.1C535.2 704 535.3 706.9 535.2 708V862.3" fill="none" stroke="url(#gVrR)" stroke-width="2" stroke-linecap="round"/>
<path d="M512.8 644.2C513.2 642.9 514.2 638.5 515.3 636.4C516.5 634.4 518 633.1 519.7 632.1C521.3 631.1 524.3 630.7 525.3 630.4" fill="none" stroke="url(#gVbR)" stroke-width="1.9" stroke-linecap="round"/>
<path d="M519.7 632.1C520.6 631.9 524.3 630.7 525.3 630.4" fill="none" stroke="#2b2633" stroke-width="1.9" stroke-linecap="round"/>
<path d="M544.4 644.2C544 642.9 543 638.5 541.8 636.4C540.7 634.4 539.2 633.1 537.5 632.1C535.8 631.1 532.8 630.7 531.9 630.4" fill="none" stroke="url(#gVrR)" stroke-width="1.9" stroke-linecap="round"/>
<path d="M537.5 632.1C536.6 631.9 532.8 630.7 531.9 630.4" fill="none" stroke="#4a3018" stroke-width="1.9" stroke-linecap="round"/>
<path d="M512.8 652.8C513.2 651.5 514.2 647 515.3 645.1C516.5 643.1 518 642.1 519.7 641.2C521.3 640.3 524.3 640.1 525.3 639.9" fill="none" stroke="url(#gVbR)" stroke-width="1.9" stroke-linecap="round"/>
<path d="M519.7 641.2C520.6 641 524.3 640.1 525.3 639.9" fill="none" stroke="#2b2633" stroke-width="1.9" stroke-linecap="round"/>
<path d="M544.4 652.8C544 651.5 543 647 541.8 645.1C540.7 643.1 539.2 642.1 537.5 641.2C535.8 640.3 532.8 640.1 531.9 639.9" fill="none" stroke="url(#gVrR)" stroke-width="1.9" stroke-linecap="round"/>
<path d="M537.5 641.2C536.6 641 532.8 640.1 531.9 639.9" fill="none" stroke="#4a3018" stroke-width="1.9" stroke-linecap="round"/>
<path d="M512.8 660.6C513.3 659.5 514.6 655.8 515.8 654.1C517 652.5 518.4 651.5 520.1 650.7C521.7 649.9 524.8 649.5 525.7 649.2" fill="none" stroke="url(#gVbR)" stroke-width="1.9" stroke-linecap="round"/>
<path d="M520.1 650.7C521 650.4 524.8 649.5 525.7 649.2" fill="none" stroke="#2b2633" stroke-width="1.9" stroke-linecap="round"/>
<path d="M544.4 660.6C543.9 659.5 542.6 655.8 541.4 654.1C540.2 652.5 538.7 651.5 537.1 650.7C535.4 649.9 532.4 649.5 531.5 649.2" fill="none" stroke="url(#gVrR)" stroke-width="1.9" stroke-linecap="round"/>
<path d="M537.1 650.7C536.1 650.4 532.4 649.5 531.5 649.2" fill="none" stroke="#4a3018" stroke-width="1.9" stroke-linecap="round"/>
<path d="M513.2 668.3C513.7 667.5 515 664.6 516.2 663.2C517.4 661.7 518.9 660.5 520.5 659.7C522.1 658.9 524.8 658.6 525.7 658.4" fill="none" stroke="url(#gVbR)" stroke-width="1.9" stroke-linecap="round"/>
<path d="M520.5 659.7C521.4 659.5 524.8 658.6 525.7 658.4" fill="none" stroke="#2b2633" stroke-width="1.9" stroke-linecap="round"/>
<path d="M544 668.3C543.5 667.5 542.2 664.6 540.9 663.2C539.7 661.7 538.2 660.5 536.6 659.7C535.1 658.9 532.3 658.6 531.5 658.4" fill="none" stroke="url(#gVrR)" stroke-width="1.9" stroke-linecap="round"/>
<path d="M536.6 659.7C535.8 659.5 532.3 658.6 531.5 658.4" fill="none" stroke="#4a3018" stroke-width="1.9" stroke-linecap="round"/>
<path d="M525.7 620.5C524.5 620.9 520.7 621.4 518.8 622.7C516.9 623.9 515.2 627 514.5 627.8" fill="none" stroke="#2b2633" stroke-width="1.9" stroke-linecap="round"/>
<path d="M531.3 620.5C532.4 620.9 536.3 621.4 538.2 622.7C540.1 623.9 542 627 542.8 627.8" fill="none" stroke="#4a3018" stroke-width="1.9" stroke-linecap="round"/>
<path d="M512.3 639C511.2 638.2 507.4 635.7 505.9 633.9C504.3 632 503.3 630.3 502.8 627.8C502.4 625.4 503.2 620.6 503.3 619.2" fill="none" stroke="#3a4aa8" stroke-width="1.9" stroke-linecap="round"/>
<path d="M505.9 633.9C505.4 632.9 503.3 630.3 502.8 627.8C502.4 625.4 503.2 620.6 503.3 619.2" fill="none" stroke="#2b2633" stroke-width="1.9" stroke-linecap="round"/>
<path d="M544.8 639C545.9 638.2 549.7 635.7 551.3 633.9C552.9 632 553.9 630.3 554.3 627.8C554.7 625.4 554 620.6 553.9 619.2" fill="none" stroke="#c83a18" stroke-width="1.9" stroke-linecap="round"/>
<path d="M551.3 633.9C551.8 632.9 553.9 630.3 554.3 627.8C554.7 625.4 554 620.6 553.9 619.2" fill="none" stroke="#4a3018" stroke-width="1.9" stroke-linecap="round"/>
<path d="M512.3 645.9C511.2 645.2 508.4 642.6 505.9 641.6C503.3 640.6 499.5 641 497.2 639.9C494.9 638.7 493.1 636.5 492.1 634.7C491.1 632.9 491.4 630.1 491.2 629.1" fill="none" stroke="#3a4aa8" stroke-width="1.9" stroke-linecap="round"/>
<path d="M505.9 641.6C504.4 641.3 499.5 641 497.2 639.9C494.9 638.7 493.1 636.5 492.1 634.7C491.1 632.9 491.4 630.1 491.2 629.1" fill="none" stroke="#2b2633" stroke-width="1.9" stroke-linecap="round"/>
<path d="M544.8 645.9C545.9 645.2 548.8 642.6 551.3 641.6C553.8 640.6 557.6 641 559.9 639.9C562.2 638.7 564.1 636.5 565.1 634.7C566.1 632.9 565.8 630.1 565.9 629.1" fill="none" stroke="#c83a18" stroke-width="1.9" stroke-linecap="round"/>
<path d="M551.3 641.6C552.7 641.3 557.6 641 559.9 639.9C562.2 638.7 564.1 636.5 565.1 634.7C566.1 632.9 565.8 630.1 565.9 629.1" fill="none" stroke="#4a3018" stroke-width="1.9" stroke-linecap="round"/>
<path d="M512.3 654.6C511.5 653.8 509.2 651.2 507.6 650.2C505.9 649.3 503.8 649 502.4 648.9C501 648.9 499.9 649.7 499.4 649.8" fill="none" stroke="#3a4aa8" stroke-width="1.9" stroke-linecap="round"/>
<path d="M507.6 650.2C506.7 650 503.8 649 502.4 648.9C501 648.9 499.9 649.7 499.4 649.8" fill="none" stroke="#2b2633" stroke-width="1.9" stroke-linecap="round"/>
<path d="M544.8 654.6C545.6 653.8 547.9 651.2 549.6 650.2C551.2 649.3 553.4 649 554.7 648.9C556.1 648.9 557.3 649.7 557.8 649.8" fill="none" stroke="#c83a18" stroke-width="1.9" stroke-linecap="round"/>
<path d="M549.6 650.2C550.4 650 553.4 649 554.7 648.9C556.1 648.9 557.3 649.7 557.8 649.8" fill="none" stroke="#4a3018" stroke-width="1.9" stroke-linecap="round"/></g>
<clipPath id="cArr"><path d="M169.6 715L211 715L202.6 790L219.2 800.6L186.1 880.6L153 800.6L169.6 790ZM471 715L517 715L508 754L502.4 792L518.8 801L486.9 881.2L455 801L471.4 792Z"/></clipPath>
<g clip-path="url(#cArr)" opacity="0.5">
<path d="M102 862.8C106.7 861.7 120.3 858.8 130 856C139.7 853.2 150 848.9 160 846C170 843.1 180.7 840.3 190 838.5C199.3 836.7 201.3 835.6 216 835C230.7 834.4 264 834 278 835C292 836 292.4 838.5 300 841C307.6 843.5 315.1 846.9 323.4 849.7C331.7 852.5 341.4 855.9 350 858C358.6 860.1 367 861.5 375 862.5C383 863.5 385.2 863.8 398 864C410.8 864.2 438.9 864.8 451.7 864C464.5 863.2 467.4 861 475 859C482.6 857 489.7 854.2 497.2 851.7C504.7 849.2 512 846.2 520 844C528 841.8 536 839.8 545 838.5C554 837.2 569.2 836.4 574 836" fill="none" stroke="#6a4a90" stroke-width="3.1"/>
<path d="M102 838.7C105.8 839.8 117.8 842.8 125 845C132.2 847.2 138 849.2 145.5 851.7C153 854.2 162.6 857.9 170 860C177.4 862.1 183.7 863.5 190 864.5C196.3 865.5 193.6 865.8 207.6 866C221.6 866.2 258.4 867.3 273.8 866C289.2 864.7 291.7 860.7 300 858C308.3 855.3 315.1 852.5 323.4 849.7C331.7 846.9 342.2 843 350 841C357.8 839 363.4 838.3 370 837.5C376.6 836.7 376.1 836.5 389.7 836.4C403.3 836.3 437.5 835.7 451.7 837C465.9 838.3 467.4 841.5 475 844C482.6 846.5 489.7 849.2 497.2 851.7C504.7 854.2 512 857 520 859C528 861 536 862.8 545 864C554 865.2 569.2 865.7 574 866" fill="none" stroke="#b82a14" stroke-width="2.5"/>
<path d="M167.5 723V844.8" stroke="#3a1a20" stroke-width="1.9" fill="none"/>
<path d="M180.3 723V862.2" stroke="#4a1410" stroke-width="1.9" fill="none"/>
<path d="M470.6 735V843.3" stroke="#5a1410" stroke-width="1.9" fill="none"/>
</g>
<g transform="translate(489 794) rotate(40) scale(0.85)"><path d="M-7 0C-3 -5 3 -5 7 0C3 5 -3 5 -7 0Z" fill="#e8703a" stroke="#e8703a" stroke-width="2.2"/><path d="M-7 0C-3 -5 3 -5 7 0C3 5 -3 5 -7 0Z" fill="#b89a2a"/><ellipse cx="0" cy="0" rx="3" ry="2.2" fill="#5a4a10" opacity="0.55"/><circle cx="0" cy="0" r="1.1" fill="#0c3a10"/></g>
<g transform="translate(484.7 649) rotate(-20) scale(0.8)"><path d="M-7 0C-3 -5 3 -5 7 0C3 5 -3 5 -7 0Z" fill="#ee4030" stroke="#ee4030" stroke-width="2.2"/><path d="M-7 0C-3 -5 3 -5 7 0C3 5 -3 5 -7 0Z" fill="#d04a2a"/><ellipse cx="0" cy="0" rx="3" ry="2.2" fill="#8a2010" opacity="0.55"/><circle cx="0" cy="0" r="1.1" fill="#0c3a10"/></g>
<rect x="302" y="421" width="53.2" height="11.2" rx="5.6" fill="#ea1612"/>
<path d="M313 430.5H344V449.5C344 454.5 340.5 457.6 336 457.6H321C316.5 457.6 313 454.5 313 449.5Z" fill="url(#gLed)"/>
<path d="M313 430.5H344V449.5C344 454.5 340.5 457.6 336 457.6H321C316.5 457.6 313 454.5 313 449.5Z" fill="url(#gLed2)"/>
<path d="M107.1 403.7L133.1 460L135.9 458.6L108.1 403.1Z" fill="#141014"/>
<path d="M320.2 404L327.2 421.3L329.4 420.3L321.2 403.6Z" fill="#141014"/>
<path d="M449.8 386.4L484.9 460.5L487.1 459.5L450.8 386Z" fill="#141014"/>
</g>
</svg>
<div class="t title" id="t1" style="top:83.5px;">PRINCIPLE OF RED</div>
<div class="t title" id="t2" style="top:169.5px;">&amp;INFRARED LIGHT THERAPY</div>
<div class="pill" id="p1" style="left:580.3px;top:362.2px;width:542.2px;"></div>
<div class="t pt" id="pt1" style="left:617px;top:378px;">660 NM LED RED LIGHT</div>
<div class="t b" id="b1" style="left:617.5px;top:467px;">Is absorbed by skin tissue at</div>
<div class="t b" id="b2" style="left:617.5px;top:511.6px;">a high rate, especially effec-</div>
<div class="t b" id="b3" style="left:617.5px;top:555.4px;">tive in promoting skin health</div>
<div class="t b" id="b4" style="left:617.5px;top:599.3px;">and in creasing collagen</div>
<div class="t b" id="b5" style="left:617.5px;top:643.4px;">production.</div>
<div class="pill" id="p2" style="left:580.3px;top:719.2px;width:571.2px;"></div>
<div class="t pt" id="pt2" style="left:598px;top:735px;">850 NM NEAR INFRARED LIGHT</div>
<div class="t b b2" id="b6" style="left:617.5px;top:822.9px;">It is invisible to the body and</div>
<div class="t b b2" id="b7" style="left:617.5px;top:865.5px;">can penetrate deeper to reach</div>
<div class="t b b2" id="b8" style="left:617.5px;top:909.2px;">your bones, tissue, organs, and</div>
<div class="t b b2" id="b9" style="left:617.5px;top:951.8px;">joints, to reduce muscle pain</div>
<div class="t b b2" id="b10" style="left:617.5px;top:995px;">and inflammation</div>
</body></html>
